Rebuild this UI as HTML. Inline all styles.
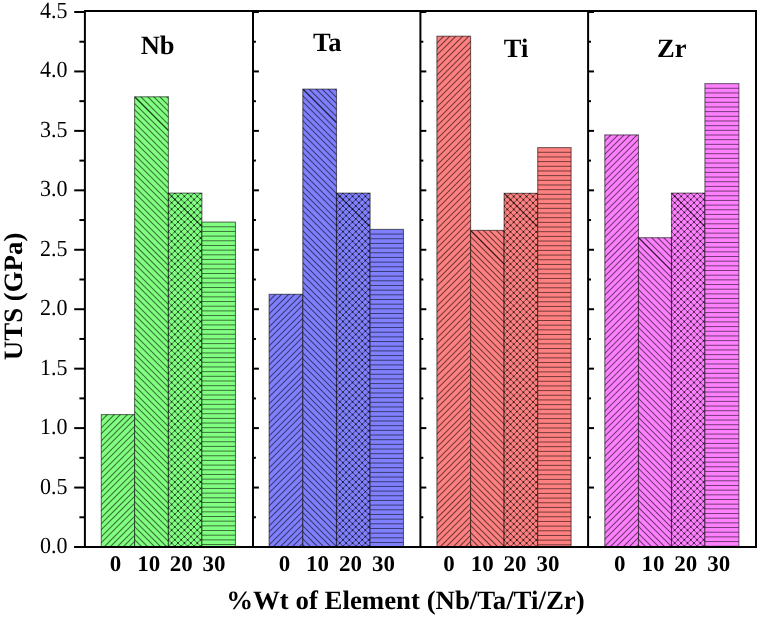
<!DOCTYPE html>
<html><head><meta charset="utf-8"><style>
html,body{margin:0;padding:0;background:#fff;}
svg{display:block;}
text{text-rendering:geometricPrecision;}
svg{will-change:transform;}
.yt{font-family:"Liberation Serif",serif;font-size:22px;}
.xt{font-family:"Liberation Serif",serif;font-size:23px;font-weight:bold;}
.pl{font-family:"Liberation Serif",serif;font-size:26.5px;font-weight:bold;}
.at{font-family:"Liberation Serif",serif;font-size:26.5px;font-weight:bold;}
</style></head><body>
<svg width="757" height="618" viewBox="0 0 757 618">
<rect width="757" height="618" fill="#fff"/>
<defs><clipPath id="c1"><rect x="101.30" y="414.60" width="33.30" height="132.40"/></clipPath><clipPath id="c2"><rect x="134.60" y="96.80" width="33.80" height="450.20"/></clipPath><clipPath id="c3"><rect x="168.40" y="193.10" width="33.50" height="353.90"/></clipPath><clipPath id="c4"><rect x="201.90" y="222.10" width="33.60" height="324.90"/></clipPath><clipPath id="c5"><rect x="269.10" y="294.30" width="33.70" height="252.70"/></clipPath><clipPath id="c6"><rect x="302.80" y="89.10" width="33.70" height="457.90"/></clipPath><clipPath id="c7"><rect x="336.50" y="193.10" width="33.60" height="353.90"/></clipPath><clipPath id="c8"><rect x="370.10" y="229.40" width="33.40" height="317.60"/></clipPath><clipPath id="c9"><rect x="436.90" y="36.20" width="33.70" height="510.80"/></clipPath><clipPath id="c10"><rect x="470.60" y="230.40" width="33.50" height="316.60"/></clipPath><clipPath id="c11"><rect x="504.10" y="193.30" width="33.60" height="353.70"/></clipPath><clipPath id="c12"><rect x="537.70" y="147.60" width="33.40" height="399.40"/></clipPath><clipPath id="c13"><rect x="604.80" y="134.90" width="33.70" height="412.10"/></clipPath><clipPath id="c14"><rect x="638.50" y="237.70" width="33.00" height="309.30"/></clipPath><clipPath id="c15"><rect x="671.50" y="193.10" width="33.40" height="353.90"/></clipPath><clipPath id="c16"><rect x="704.90" y="83.60" width="34.00" height="463.40"/></clipPath></defs>
<rect x="101.30" y="414.60" width="33.30" height="132.40" fill="#80ff80"/><path clip-path="url(#c1)" d="M99.40 409.60L-43.00 552.00M106.40 409.60L-36.00 552.00M112.40 409.60L-30.00 552.00M119.40 409.60L-23.00 552.00M125.40 409.60L-17.00 552.00M132.40 409.60L-10.00 552.00M138.40 409.60L-4.00 552.00M144.40 409.60L2.00 552.00M151.40 409.60L9.00 552.00M157.40 409.60L15.00 552.00M164.40 409.60L22.00 552.00M170.40 409.60L28.00 552.00M177.40 409.60L35.00 552.00M183.40 409.60L41.00 552.00M189.40 409.60L47.00 552.00M196.40 409.60L54.00 552.00M202.40 409.60L60.00 552.00M209.40 409.60L67.00 552.00M215.40 409.60L73.00 552.00M221.40 409.60L79.00 552.00M228.40 409.60L86.00 552.00M234.40 409.60L92.00 552.00M241.40 409.60L99.00 552.00M247.40 409.60L105.00 552.00M254.40 409.60L112.00 552.00M260.40 409.60L118.00 552.00M266.40 409.60L124.00 552.00" stroke="#000" stroke-width="1.15" stroke-opacity="0.55" fill="none"/><rect x="101.30" y="414.60" width="33.30" height="132.40" fill="none" stroke="#000" stroke-width="1.1" stroke-opacity="0.55"/><rect x="134.60" y="96.80" width="33.80" height="450.20" fill="#80ff80"/><path clip-path="url(#c2)" d="M-332.20 91.80L128.00 552.00M-326.20 91.80L134.00 552.00M-320.20 91.80L140.00 552.00M-313.20 91.80L147.00 552.00M-307.20 91.80L153.00 552.00M-300.20 91.80L160.00 552.00M-294.20 91.80L166.00 552.00M-288.20 91.80L172.00 552.00M-281.20 91.80L179.00 552.00M-275.20 91.80L185.00 552.00M-268.20 91.80L192.00 552.00M-262.20 91.80L198.00 552.00M-255.20 91.80L205.00 552.00M-249.20 91.80L211.00 552.00M-243.20 91.80L217.00 552.00M-236.20 91.80L224.00 552.00M-230.20 91.80L230.00 552.00M-223.20 91.80L237.00 552.00M-217.20 91.80L243.00 552.00M-210.20 91.80L250.00 552.00M-204.20 91.80L256.00 552.00M-198.20 91.80L262.00 552.00M-191.20 91.80L269.00 552.00M-185.20 91.80L275.00 552.00M-178.20 91.80L282.00 552.00M-172.20 91.80L288.00 552.00M-166.20 91.80L294.00 552.00M-159.20 91.80L301.00 552.00M-153.20 91.80L307.00 552.00M-146.20 91.80L314.00 552.00M-140.20 91.80L320.00 552.00M-133.20 91.80L327.00 552.00M-127.20 91.80L333.00 552.00M-121.20 91.80L339.00 552.00M-114.20 91.80L346.00 552.00M-108.20 91.80L352.00 552.00M-101.20 91.80L359.00 552.00M-95.20 91.80L365.00 552.00M-88.20 91.80L372.00 552.00M-82.20 91.80L378.00 552.00M-76.20 91.80L384.00 552.00M-69.20 91.80L391.00 552.00M-63.20 91.80L397.00 552.00M-56.20 91.80L404.00 552.00M-50.20 91.80L410.00 552.00M-44.20 91.80L416.00 552.00M-37.20 91.80L423.00 552.00M-31.20 91.80L429.00 552.00M-24.20 91.80L436.00 552.00M-18.20 91.80L442.00 552.00M-11.20 91.80L449.00 552.00M-5.20 91.80L455.00 552.00M0.80 91.80L461.00 552.00M7.80 91.80L468.00 552.00M13.80 91.80L474.00 552.00M20.80 91.80L481.00 552.00M26.80 91.80L487.00 552.00M33.80 91.80L494.00 552.00M39.80 91.80L500.00 552.00M45.80 91.80L506.00 552.00M52.80 91.80L513.00 552.00M58.80 91.80L519.00 552.00M65.80 91.80L526.00 552.00M71.80 91.80L532.00 552.00M77.80 91.80L538.00 552.00M84.80 91.80L545.00 552.00M90.80 91.80L551.00 552.00M97.80 91.80L558.00 552.00M103.80 91.80L564.00 552.00M110.80 91.80L571.00 552.00M116.80 91.80L577.00 552.00M122.80 91.80L583.00 552.00M129.80 91.80L590.00 552.00M135.80 91.80L596.00 552.00M142.80 91.80L603.00 552.00M148.80 91.80L609.00 552.00M154.80 91.80L615.00 552.00M161.80 91.80L622.00 552.00" stroke="#000" stroke-width="1.15" stroke-opacity="0.55" fill="none"/><path clip-path="url(#c2)" d="M134.60 96.80L168.40 130.60" stroke="#000" stroke-width="1.3" stroke-opacity="0.5" fill="none"/><rect x="134.60" y="96.80" width="33.80" height="450.20" fill="none" stroke="#000" stroke-width="1.1" stroke-opacity="0.55"/><rect x="168.40" y="193.10" width="33.50" height="353.90" fill="#80ff80"/><path clip-path="url(#c3)" d="M-202.54 188.10L161.36 552.00M-196.12 188.10L167.78 552.00M-189.70 188.10L174.20 552.00M-183.28 188.10L180.62 552.00M-176.86 188.10L187.04 552.00M-170.44 188.10L193.46 552.00M-164.02 188.10L199.88 552.00M-157.60 188.10L206.30 552.00M-151.18 188.10L212.72 552.00M-144.76 188.10L219.14 552.00M-138.34 188.10L225.56 552.00M-131.92 188.10L231.98 552.00M-125.50 188.10L238.40 552.00M-119.08 188.10L244.82 552.00M-112.66 188.10L251.24 552.00M-106.24 188.10L257.66 552.00M-99.82 188.10L264.08 552.00M-93.40 188.10L270.50 552.00M-86.98 188.10L276.92 552.00M-80.56 188.10L283.34 552.00M-74.14 188.10L289.76 552.00M-67.72 188.10L296.18 552.00M-61.30 188.10L302.60 552.00M-54.88 188.10L309.02 552.00M-48.46 188.10L315.44 552.00M-42.04 188.10L321.86 552.00M-35.62 188.10L328.28 552.00M-29.20 188.10L334.70 552.00M-22.78 188.10L341.12 552.00M-16.36 188.10L347.54 552.00M-9.94 188.10L353.96 552.00M-3.52 188.10L360.38 552.00M2.90 188.10L366.80 552.00M9.32 188.10L373.22 552.00M15.74 188.10L379.64 552.00M22.16 188.10L386.06 552.00M28.58 188.10L392.48 552.00M35.00 188.10L398.90 552.00M41.42 188.10L405.32 552.00M47.84 188.10L411.74 552.00M54.26 188.10L418.16 552.00M60.68 188.10L424.58 552.00M67.10 188.10L431.00 552.00M73.52 188.10L437.42 552.00M79.94 188.10L443.84 552.00M86.36 188.10L450.26 552.00M92.78 188.10L456.68 552.00M99.20 188.10L463.10 552.00M105.62 188.10L469.52 552.00M112.04 188.10L475.94 552.00M118.46 188.10L482.36 552.00M124.88 188.10L488.78 552.00M131.30 188.10L495.20 552.00M137.72 188.10L501.62 552.00M144.14 188.10L508.04 552.00M150.56 188.10L514.46 552.00M156.98 188.10L520.88 552.00M163.40 188.10L527.30 552.00M169.82 188.10L533.72 552.00M176.24 188.10L540.14 552.00M182.66 188.10L546.56 552.00M189.08 188.10L552.98 552.00M195.50 188.10L559.40 552.00M166.98 188.10L-196.92 552.00M173.40 188.10L-190.50 552.00M179.82 188.10L-184.08 552.00M186.24 188.10L-177.66 552.00M192.66 188.10L-171.24 552.00M199.08 188.10L-164.82 552.00M205.50 188.10L-158.40 552.00M211.92 188.10L-151.98 552.00M218.34 188.10L-145.56 552.00M224.76 188.10L-139.14 552.00M231.18 188.10L-132.72 552.00M237.60 188.10L-126.30 552.00M244.02 188.10L-119.88 552.00M250.44 188.10L-113.46 552.00M256.86 188.10L-107.04 552.00M263.28 188.10L-100.62 552.00M269.70 188.10L-94.20 552.00M276.12 188.10L-87.78 552.00M282.54 188.10L-81.36 552.00M288.96 188.10L-74.94 552.00M295.38 188.10L-68.52 552.00M301.80 188.10L-62.10 552.00M308.22 188.10L-55.68 552.00M314.64 188.10L-49.26 552.00M321.06 188.10L-42.84 552.00M327.48 188.10L-36.42 552.00M333.90 188.10L-30.00 552.00M340.32 188.10L-23.58 552.00M346.74 188.10L-17.16 552.00M353.16 188.10L-10.74 552.00M359.58 188.10L-4.32 552.00M366.00 188.10L2.10 552.00M372.42 188.10L8.52 552.00M378.84 188.10L14.94 552.00M385.26 188.10L21.36 552.00M391.68 188.10L27.78 552.00M398.10 188.10L34.20 552.00M404.52 188.10L40.62 552.00M410.94 188.10L47.04 552.00M417.36 188.10L53.46 552.00M423.78 188.10L59.88 552.00M430.20 188.10L66.30 552.00M436.62 188.10L72.72 552.00M443.04 188.10L79.14 552.00M449.46 188.10L85.56 552.00M455.88 188.10L91.98 552.00M462.30 188.10L98.40 552.00M468.72 188.10L104.82 552.00M475.14 188.10L111.24 552.00M481.56 188.10L117.66 552.00M487.98 188.10L124.08 552.00M494.40 188.10L130.50 552.00M500.82 188.10L136.92 552.00M507.24 188.10L143.34 552.00M513.66 188.10L149.76 552.00M520.08 188.10L156.18 552.00M526.50 188.10L162.60 552.00M532.92 188.10L169.02 552.00M539.34 188.10L175.44 552.00M545.76 188.10L181.86 552.00M552.18 188.10L188.28 552.00M558.60 188.10L194.70 552.00" stroke="#000" stroke-width="1.0" stroke-opacity="0.5" fill="none"/><path clip-path="url(#c3)" d="M168.4 193.1h0M168.4 199.5h0M171.6 196.3h0M174.8 193.1h0M168.4 205.9h0M171.6 202.7h0M174.8 199.5h0M178.0 196.3h0M181.2 193.1h0M168.4 212.4h0M171.6 209.1h0M174.8 205.9h0M178.0 202.7h0M181.2 199.5h0M184.4 196.3h0M187.7 193.1h0M168.4 218.8h0M171.6 215.6h0M174.8 212.4h0M178.0 209.2h0M181.2 205.9h0M184.5 202.7h0M187.7 199.5h0M190.9 196.3h0M194.1 193.1h0M168.4 225.2h0M171.6 222.0h0M174.8 218.8h0M178.0 215.6h0M181.2 212.4h0M184.5 209.2h0M187.7 205.9h0M190.9 202.7h0M194.1 199.5h0M197.3 196.3h0M200.5 193.1h0M168.4 231.6h0M171.6 228.4h0M174.8 225.2h0M178.0 222.0h0M181.2 218.8h0M184.4 215.6h0M187.7 212.4h0M190.9 209.1h0M194.1 205.9h0M197.3 202.7h0M200.5 199.5h0M168.4 238.0h0M171.6 234.8h0M174.8 231.6h0M178.0 228.4h0M181.2 225.2h0M184.4 222.0h0M187.7 218.8h0M190.9 215.6h0M194.1 212.4h0M197.3 209.2h0M200.5 205.9h0M168.4 244.5h0M171.6 241.2h0M174.8 238.0h0M178.0 234.8h0M181.2 231.6h0M184.5 228.4h0M187.7 225.2h0M190.9 222.0h0M194.1 218.8h0M197.3 215.6h0M200.5 212.4h0M168.4 250.9h0M171.6 247.7h0M174.8 244.5h0M178.0 241.2h0M181.2 238.0h0M184.4 234.8h0M187.7 231.6h0M190.9 228.4h0M194.1 225.2h0M197.3 222.0h0M200.5 218.8h0M168.4 257.3h0M171.6 254.1h0M174.8 250.9h0M178.0 247.7h0M181.2 244.5h0M184.4 241.2h0M187.7 238.0h0M190.9 234.8h0M194.1 231.6h0M197.3 228.4h0M200.5 225.2h0M168.4 263.7h0M171.6 260.5h0M174.8 257.3h0M178.0 254.1h0M181.2 250.9h0M184.5 247.7h0M187.7 244.5h0M190.9 241.2h0M194.1 238.0h0M197.3 234.8h0M200.5 231.6h0M168.4 270.1h0M171.6 266.9h0M174.8 263.7h0M178.0 260.5h0M181.2 257.3h0M184.4 254.1h0M187.7 250.9h0M190.9 247.7h0M194.1 244.5h0M197.3 241.2h0M200.5 238.0h0M168.4 276.6h0M171.6 273.3h0M174.8 270.1h0M178.0 266.9h0M181.2 263.7h0M184.4 260.5h0M187.7 257.3h0M190.9 254.1h0M194.1 250.9h0M197.3 247.7h0M200.5 244.5h0M168.4 283.0h0M171.6 279.8h0M174.8 276.6h0M178.0 273.4h0M181.2 270.1h0M184.4 266.9h0M187.7 263.7h0M190.9 260.5h0M194.1 257.3h0M197.3 254.1h0M200.5 250.9h0M168.4 289.4h0M171.6 286.2h0M174.8 283.0h0M178.0 279.8h0M181.2 276.6h0M184.5 273.4h0M187.7 270.1h0M190.9 266.9h0M194.1 263.7h0M197.3 260.5h0M200.5 257.3h0M168.4 295.8h0M171.6 292.6h0M174.8 289.4h0M178.0 286.2h0M181.2 283.0h0M184.5 279.8h0M187.7 276.6h0M190.9 273.4h0M194.1 270.1h0M197.3 266.9h0M200.5 263.7h0M168.4 302.2h0M171.6 299.0h0M174.8 295.8h0M178.0 292.6h0M181.2 289.4h0M184.4 286.2h0M187.7 283.0h0M190.9 279.8h0M194.1 276.6h0M197.3 273.3h0M200.5 270.1h0M168.4 308.7h0M171.6 305.4h0M174.8 302.2h0M178.0 299.0h0M181.2 295.8h0M184.5 292.6h0M187.7 289.4h0M190.9 286.2h0M194.1 283.0h0M197.3 279.8h0M200.5 276.6h0M168.4 315.1h0M171.6 311.9h0M174.8 308.7h0M178.0 305.4h0M181.2 302.2h0M184.5 299.0h0M187.7 295.8h0M190.9 292.6h0M194.1 289.4h0M197.3 286.2h0M200.5 283.0h0M168.4 321.5h0M171.6 318.3h0M174.8 315.1h0M178.0 311.9h0M181.2 308.7h0M184.4 305.4h0M187.7 302.2h0M190.9 299.0h0M194.1 295.8h0M197.3 292.6h0M200.5 289.4h0M168.4 327.9h0M171.6 324.7h0M174.8 321.5h0M178.0 318.3h0M181.2 315.1h0M184.4 311.9h0M187.7 308.7h0M190.9 305.4h0M194.1 302.2h0M197.3 299.0h0M200.5 295.8h0M168.4 334.3h0M171.6 331.1h0M174.8 327.9h0M178.0 324.7h0M181.2 321.5h0M184.5 318.3h0M187.7 315.1h0M190.9 311.9h0M194.1 308.7h0M197.3 305.4h0M200.5 302.2h0M168.4 340.8h0M171.6 337.5h0M174.8 334.3h0M178.0 331.1h0M181.2 327.9h0M184.4 324.7h0M187.7 321.5h0M190.9 318.3h0M194.1 315.1h0M197.3 311.9h0M200.5 308.7h0M168.4 347.2h0M171.6 344.0h0M174.8 340.8h0M178.0 337.5h0M181.2 334.3h0M184.4 331.1h0M187.7 327.9h0M190.9 324.7h0M194.1 321.5h0M197.3 318.3h0M200.5 315.1h0M168.4 353.6h0M171.6 350.4h0M174.8 347.2h0M178.0 344.0h0M181.2 340.8h0M184.4 337.6h0M187.7 334.3h0M190.9 331.1h0M194.1 327.9h0M197.3 324.7h0M200.5 321.5h0M168.4 360.0h0M171.6 356.8h0M174.8 353.6h0M178.0 350.4h0M181.2 347.2h0M184.4 344.0h0M187.7 340.8h0M190.9 337.5h0M194.1 334.3h0M197.3 331.1h0M200.5 327.9h0M168.4 366.4h0M171.6 363.2h0M174.8 360.0h0M178.0 356.8h0M181.2 353.6h0M184.5 350.4h0M187.7 347.2h0M190.9 344.0h0M194.1 340.8h0M197.3 337.6h0M200.5 334.3h0M168.4 372.9h0M171.6 369.6h0M174.8 366.4h0M178.0 363.2h0M181.2 360.0h0M184.4 356.8h0M187.7 353.6h0M190.9 350.4h0M194.1 347.2h0M197.3 344.0h0M200.5 340.8h0M168.4 379.3h0M171.6 376.1h0M174.8 372.9h0M178.0 369.7h0M181.2 366.4h0M184.5 363.2h0M187.7 360.0h0M190.9 356.8h0M194.1 353.6h0M197.3 350.4h0M200.5 347.2h0M168.4 385.7h0M171.6 382.5h0M174.8 379.3h0M178.0 376.1h0M181.2 372.9h0M184.5 369.6h0M187.7 366.4h0M190.9 363.2h0M194.1 360.0h0M197.3 356.8h0M200.5 353.6h0M168.4 392.1h0M171.6 388.9h0M174.8 385.7h0M178.0 382.5h0M181.2 379.3h0M184.4 376.1h0M187.7 372.9h0M190.9 369.6h0M194.1 366.4h0M197.3 363.2h0M200.5 360.0h0M168.4 398.5h0M171.6 395.3h0M174.8 392.1h0M178.0 388.9h0M181.2 385.7h0M184.5 382.5h0M187.7 379.3h0M190.9 376.1h0M194.1 372.9h0M197.3 369.7h0M200.5 366.4h0M168.4 405.0h0M171.6 401.8h0M174.8 398.5h0M178.0 395.3h0M181.2 392.1h0M184.5 388.9h0M187.7 385.7h0M190.9 382.5h0M194.1 379.3h0M197.3 376.1h0M200.5 372.9h0M168.4 411.4h0M171.6 408.2h0M174.8 405.0h0M178.0 401.8h0M181.2 398.5h0M184.4 395.3h0M187.7 392.1h0M190.9 388.9h0M194.1 385.7h0M197.3 382.5h0M200.5 379.3h0M168.4 417.8h0M171.6 414.6h0M174.8 411.4h0M178.0 408.2h0M181.2 405.0h0M184.5 401.8h0M187.7 398.5h0M190.9 395.3h0M194.1 392.1h0M197.3 388.9h0M200.5 385.7h0M168.4 424.2h0M171.6 421.0h0M174.8 417.8h0M178.0 414.6h0M181.2 411.4h0M184.4 408.2h0M187.7 405.0h0M190.9 401.8h0M194.1 398.5h0M197.3 395.3h0M200.5 392.1h0M168.4 430.6h0M171.6 427.4h0M174.8 424.2h0M178.0 421.0h0M181.2 417.8h0M184.4 414.6h0M187.7 411.4h0M190.9 408.2h0M194.1 405.0h0M197.3 401.8h0M200.5 398.5h0M168.4 437.1h0M171.6 433.9h0M174.8 430.6h0M178.0 427.4h0M181.2 424.2h0M184.5 421.0h0M187.7 417.8h0M190.9 414.6h0M194.1 411.4h0M197.3 408.2h0M200.5 405.0h0M168.4 443.5h0M171.6 440.3h0M174.8 437.1h0M178.0 433.9h0M181.2 430.6h0M184.4 427.4h0M187.7 424.2h0M190.9 421.0h0M194.1 417.8h0M197.3 414.6h0M200.5 411.4h0M168.4 449.9h0M171.6 446.7h0M174.8 443.5h0M178.0 440.3h0M181.2 437.1h0M184.4 433.8h0M187.7 430.6h0M190.9 427.4h0M194.1 424.2h0M197.3 421.0h0M200.5 417.8h0M168.4 456.3h0M171.6 453.1h0M174.8 449.9h0M178.0 446.7h0M181.2 443.5h0M184.5 440.3h0M187.7 437.1h0M190.9 433.9h0M194.1 430.6h0M197.3 427.4h0M200.5 424.2h0M168.4 462.7h0M171.6 459.5h0M174.8 456.3h0M178.0 453.1h0M181.2 449.9h0M184.4 446.7h0M187.7 443.5h0M190.9 440.3h0M194.1 437.1h0M197.3 433.8h0M200.5 430.6h0M168.4 469.2h0M171.6 465.9h0M174.8 462.7h0M178.0 459.5h0M181.2 456.3h0M184.4 453.1h0M187.7 449.9h0M190.9 446.7h0M194.1 443.5h0M197.3 440.3h0M200.5 437.1h0M168.4 475.6h0M171.6 472.4h0M174.8 469.2h0M178.0 465.9h0M181.2 462.7h0M184.5 459.5h0M187.7 456.3h0M190.9 453.1h0M194.1 449.9h0M197.3 446.7h0M200.5 443.5h0M168.4 482.0h0M171.6 478.8h0M174.8 475.6h0M178.0 472.4h0M181.2 469.2h0M184.4 465.9h0M187.7 462.7h0M190.9 459.5h0M194.1 456.3h0M197.3 453.1h0M200.5 449.9h0M168.4 488.4h0M171.6 485.2h0M174.8 482.0h0M178.0 478.8h0M181.2 475.6h0M184.4 472.4h0M187.7 469.2h0M190.9 465.9h0M194.1 462.7h0M197.3 459.5h0M200.5 456.3h0M168.4 494.8h0M171.6 491.6h0M174.8 488.4h0M178.0 485.2h0M181.2 482.0h0M184.5 478.8h0M187.7 475.6h0M190.9 472.4h0M194.1 469.2h0M197.3 465.9h0M200.5 462.7h0M168.4 501.3h0M171.6 498.0h0M174.8 494.8h0M178.0 491.6h0M181.2 488.4h0M184.4 485.2h0M187.7 482.0h0M190.9 478.8h0M194.1 475.6h0M197.3 472.4h0M200.5 469.2h0M168.4 507.7h0M171.6 504.5h0M174.8 501.3h0M178.0 498.0h0M181.2 494.8h0M184.4 491.6h0M187.7 488.4h0M190.9 485.2h0M194.1 482.0h0M197.3 478.8h0M200.5 475.6h0M168.4 514.1h0M171.6 510.9h0M174.8 507.7h0M178.0 504.5h0M181.2 501.3h0M184.5 498.0h0M187.7 494.8h0M190.9 491.6h0M194.1 488.4h0M197.3 485.2h0M200.5 482.0h0M168.4 520.5h0M171.6 517.3h0M174.8 514.1h0M178.0 510.9h0M181.2 507.7h0M184.5 504.5h0M187.7 501.3h0M190.9 498.1h0M194.1 494.8h0M197.3 491.6h0M200.5 488.4h0M168.4 526.9h0M171.6 523.7h0M174.8 520.5h0M178.0 517.3h0M181.2 514.1h0M184.4 510.9h0M187.7 507.7h0M190.9 504.5h0M194.1 501.3h0M197.3 498.0h0M200.5 494.8h0M168.4 533.4h0M171.6 530.1h0M174.8 526.9h0M178.0 523.7h0M181.2 520.5h0M184.5 517.3h0M187.7 514.1h0M190.9 510.9h0M194.1 507.7h0M197.3 504.5h0M200.5 501.3h0M168.4 539.8h0M171.6 536.6h0M174.8 533.4h0M178.0 530.2h0M181.2 526.9h0M184.5 523.7h0M187.7 520.5h0M190.9 517.3h0M194.1 514.1h0M197.3 510.9h0M200.5 507.7h0M168.4 546.2h0M171.6 543.0h0M174.8 539.8h0M178.0 536.6h0M181.2 533.4h0M184.5 530.1h0M187.7 526.9h0M190.9 523.7h0M194.1 520.5h0M197.3 517.3h0M200.5 514.1h0M174.8 546.2h0M178.0 543.0h0M181.2 539.8h0M184.4 536.6h0M187.7 533.4h0M190.9 530.1h0M194.1 526.9h0M197.3 523.7h0M200.5 520.5h0M181.2 546.2h0M184.5 543.0h0M187.7 539.8h0M190.9 536.6h0M194.1 533.4h0M197.3 530.1h0M200.5 526.9h0M187.7 546.2h0M190.9 543.0h0M194.1 539.8h0M197.3 536.6h0M200.5 533.4h0M194.1 546.2h0M197.3 543.0h0M200.5 539.8h0M200.5 546.2h0" stroke="#000" stroke-linecap="round" stroke-width="1.8" stroke-opacity="0.6"/><path clip-path="url(#c3)" d="M168.40 193.10L201.90 226.60" stroke="#000" stroke-width="1.3" stroke-opacity="0.5" fill="none"/><rect x="168.40" y="193.10" width="33.50" height="353.90" fill="none" stroke="#000" stroke-width="1.1" stroke-opacity="0.55"/><rect x="201.90" y="222.10" width="33.60" height="324.90" fill="#80ff80"/><path clip-path="url(#c4)" d="M201.90 226.77H235.50M201.90 231.45H235.50M201.90 236.12H235.50M201.90 240.79H235.50M201.90 245.47H235.50M201.90 250.14H235.50M201.90 254.81H235.50M201.90 259.48H235.50M201.90 264.16H235.50M201.90 268.83H235.50M201.90 273.50H235.50M201.90 278.18H235.50M201.90 282.85H235.50M201.90 287.52H235.50M201.90 292.19H235.50M201.90 296.87H235.50M201.90 301.54H235.50M201.90 306.21H235.50M201.90 310.89H235.50M201.90 315.56H235.50M201.90 320.23H235.50M201.90 324.91H235.50M201.90 329.58H235.50M201.90 334.25H235.50M201.90 338.93H235.50M201.90 343.60H235.50M201.90 348.27H235.50M201.90 352.94H235.50M201.90 357.62H235.50M201.90 362.29H235.50M201.90 366.96H235.50M201.90 371.64H235.50M201.90 376.31H235.50M201.90 380.98H235.50M201.90 385.66H235.50M201.90 390.33H235.50M201.90 395.00H235.50M201.90 399.67H235.50M201.90 404.35H235.50M201.90 409.02H235.50M201.90 413.69H235.50M201.90 418.37H235.50M201.90 423.04H235.50M201.90 427.71H235.50M201.90 432.39H235.50M201.90 437.06H235.50M201.90 441.73H235.50M201.90 446.40H235.50M201.90 451.08H235.50M201.90 455.75H235.50M201.90 460.42H235.50M201.90 465.10H235.50M201.90 469.77H235.50M201.90 474.44H235.50M201.90 479.12H235.50M201.90 483.79H235.50M201.90 488.46H235.50M201.90 493.13H235.50M201.90 497.81H235.50M201.90 502.48H235.50M201.90 507.15H235.50M201.90 511.83H235.50M201.90 516.50H235.50M201.90 521.17H235.50M201.90 525.85H235.50M201.90 530.52H235.50M201.90 535.19H235.50M201.90 539.86H235.50M201.90 544.54H235.50" stroke="#000" stroke-width="1.0" stroke-opacity="0.55" fill="none"/><rect x="201.90" y="222.10" width="33.60" height="324.90" fill="none" stroke="#000" stroke-width="1.1" stroke-opacity="0.55"/><rect x="269.10" y="294.30" width="33.70" height="252.70" fill="#8080ff"/><path clip-path="url(#c5)" d="M267.70 289.30L5.00 552.00M273.70 289.30L11.00 552.00M280.70 289.30L18.00 552.00M286.70 289.30L24.00 552.00M293.70 289.30L31.00 552.00M299.70 289.30L37.00 552.00M306.70 289.30L44.00 552.00M312.70 289.30L50.00 552.00M318.70 289.30L56.00 552.00M325.70 289.30L63.00 552.00M331.70 289.30L69.00 552.00M338.70 289.30L76.00 552.00M344.70 289.30L82.00 552.00M350.70 289.30L88.00 552.00M357.70 289.30L95.00 552.00M363.70 289.30L101.00 552.00M370.70 289.30L108.00 552.00M376.70 289.30L114.00 552.00M383.70 289.30L121.00 552.00M389.70 289.30L127.00 552.00M395.70 289.30L133.00 552.00M402.70 289.30L140.00 552.00M408.70 289.30L146.00 552.00M415.70 289.30L153.00 552.00M421.70 289.30L159.00 552.00M427.70 289.30L165.00 552.00M434.70 289.30L172.00 552.00M440.70 289.30L178.00 552.00M447.70 289.30L185.00 552.00M453.70 289.30L191.00 552.00M460.70 289.30L198.00 552.00M466.70 289.30L204.00 552.00M472.70 289.30L210.00 552.00M479.70 289.30L217.00 552.00M485.70 289.30L223.00 552.00M492.70 289.30L230.00 552.00M498.70 289.30L236.00 552.00M505.70 289.30L243.00 552.00M511.70 289.30L249.00 552.00M517.70 289.30L255.00 552.00M524.70 289.30L262.00 552.00M530.70 289.30L268.00 552.00M537.70 289.30L275.00 552.00M543.70 289.30L281.00 552.00M549.70 289.30L287.00 552.00M556.70 289.30L294.00 552.00" stroke="#000" stroke-width="1.15" stroke-opacity="0.55" fill="none"/><rect x="269.10" y="294.30" width="33.70" height="252.70" fill="none" stroke="#000" stroke-width="1.1" stroke-opacity="0.55"/><rect x="302.80" y="89.10" width="33.70" height="457.90" fill="#8080ff"/><path clip-path="url(#c6)" d="M-170.90 84.10L297.00 552.00M-164.90 84.10L303.00 552.00M-157.90 84.10L310.00 552.00M-151.90 84.10L316.00 552.00M-144.90 84.10L323.00 552.00M-138.90 84.10L329.00 552.00M-131.90 84.10L336.00 552.00M-125.90 84.10L342.00 552.00M-119.90 84.10L348.00 552.00M-112.90 84.10L355.00 552.00M-106.90 84.10L361.00 552.00M-99.90 84.10L368.00 552.00M-93.90 84.10L374.00 552.00M-86.90 84.10L381.00 552.00M-80.90 84.10L387.00 552.00M-74.90 84.10L393.00 552.00M-67.90 84.10L400.00 552.00M-61.90 84.10L406.00 552.00M-54.90 84.10L413.00 552.00M-48.90 84.10L419.00 552.00M-42.90 84.10L425.00 552.00M-35.90 84.10L432.00 552.00M-29.90 84.10L438.00 552.00M-22.90 84.10L445.00 552.00M-16.90 84.10L451.00 552.00M-9.90 84.10L458.00 552.00M-3.90 84.10L464.00 552.00M2.10 84.10L470.00 552.00M9.10 84.10L477.00 552.00M15.10 84.10L483.00 552.00M22.10 84.10L490.00 552.00M28.10 84.10L496.00 552.00M34.10 84.10L502.00 552.00M41.10 84.10L509.00 552.00M47.10 84.10L515.00 552.00M54.10 84.10L522.00 552.00M60.10 84.10L528.00 552.00M67.10 84.10L535.00 552.00M73.10 84.10L541.00 552.00M79.10 84.10L547.00 552.00M86.10 84.10L554.00 552.00M92.10 84.10L560.00 552.00M99.10 84.10L567.00 552.00M105.10 84.10L573.00 552.00M112.10 84.10L580.00 552.00M118.10 84.10L586.00 552.00M124.10 84.10L592.00 552.00M131.10 84.10L599.00 552.00M137.10 84.10L605.00 552.00M144.10 84.10L612.00 552.00M150.10 84.10L618.00 552.00M156.10 84.10L624.00 552.00M163.10 84.10L631.00 552.00M169.10 84.10L637.00 552.00M176.10 84.10L644.00 552.00M182.10 84.10L650.00 552.00M189.10 84.10L657.00 552.00M195.10 84.10L663.00 552.00M201.10 84.10L669.00 552.00M208.10 84.10L676.00 552.00M214.10 84.10L682.00 552.00M221.10 84.10L689.00 552.00M227.10 84.10L695.00 552.00M234.10 84.10L702.00 552.00M240.10 84.10L708.00 552.00M246.10 84.10L714.00 552.00M253.10 84.10L721.00 552.00M259.10 84.10L727.00 552.00M266.10 84.10L734.00 552.00M272.10 84.10L740.00 552.00M278.10 84.10L746.00 552.00M285.10 84.10L753.00 552.00M291.10 84.10L759.00 552.00M298.10 84.10L766.00 552.00M304.10 84.10L772.00 552.00M311.10 84.10L779.00 552.00M317.10 84.10L785.00 552.00M323.10 84.10L791.00 552.00M330.10 84.10L798.00 552.00" stroke="#000" stroke-width="1.15" stroke-opacity="0.55" fill="none"/><path clip-path="url(#c6)" d="M302.80 89.10L336.50 122.80" stroke="#000" stroke-width="1.3" stroke-opacity="0.5" fill="none"/><rect x="302.80" y="89.10" width="33.70" height="457.90" fill="none" stroke="#000" stroke-width="1.1" stroke-opacity="0.55"/><rect x="336.50" y="193.10" width="33.60" height="353.90" fill="#8080ff"/><path clip-path="url(#c7)" d="M-34.44 188.10L329.46 552.00M-28.02 188.10L335.88 552.00M-21.60 188.10L342.30 552.00M-15.18 188.10L348.72 552.00M-8.76 188.10L355.14 552.00M-2.34 188.10L361.56 552.00M4.08 188.10L367.98 552.00M10.50 188.10L374.40 552.00M16.92 188.10L380.82 552.00M23.34 188.10L387.24 552.00M29.76 188.10L393.66 552.00M36.18 188.10L400.08 552.00M42.60 188.10L406.50 552.00M49.02 188.10L412.92 552.00M55.44 188.10L419.34 552.00M61.86 188.10L425.76 552.00M68.28 188.10L432.18 552.00M74.70 188.10L438.60 552.00M81.12 188.10L445.02 552.00M87.54 188.10L451.44 552.00M93.96 188.10L457.86 552.00M100.38 188.10L464.28 552.00M106.80 188.10L470.70 552.00M113.22 188.10L477.12 552.00M119.64 188.10L483.54 552.00M126.06 188.10L489.96 552.00M132.48 188.10L496.38 552.00M138.90 188.10L502.80 552.00M145.32 188.10L509.22 552.00M151.74 188.10L515.64 552.00M158.16 188.10L522.06 552.00M164.58 188.10L528.48 552.00M171.00 188.10L534.90 552.00M177.42 188.10L541.32 552.00M183.84 188.10L547.74 552.00M190.26 188.10L554.16 552.00M196.68 188.10L560.58 552.00M203.10 188.10L567.00 552.00M209.52 188.10L573.42 552.00M215.94 188.10L579.84 552.00M222.36 188.10L586.26 552.00M228.78 188.10L592.68 552.00M235.20 188.10L599.10 552.00M241.62 188.10L605.52 552.00M248.04 188.10L611.94 552.00M254.46 188.10L618.36 552.00M260.88 188.10L624.78 552.00M267.30 188.10L631.20 552.00M273.72 188.10L637.62 552.00M280.14 188.10L644.04 552.00M286.56 188.10L650.46 552.00M292.98 188.10L656.88 552.00M299.40 188.10L663.30 552.00M305.82 188.10L669.72 552.00M312.24 188.10L676.14 552.00M318.66 188.10L682.56 552.00M325.08 188.10L688.98 552.00M331.50 188.10L695.40 552.00M337.92 188.10L701.82 552.00M344.34 188.10L708.24 552.00M350.76 188.10L714.66 552.00M357.18 188.10L721.08 552.00M363.60 188.10L727.50 552.00M335.08 188.10L-28.82 552.00M341.50 188.10L-22.40 552.00M347.92 188.10L-15.98 552.00M354.34 188.10L-9.56 552.00M360.76 188.10L-3.14 552.00M367.18 188.10L3.28 552.00M373.60 188.10L9.70 552.00M380.02 188.10L16.12 552.00M386.44 188.10L22.54 552.00M392.86 188.10L28.96 552.00M399.28 188.10L35.38 552.00M405.70 188.10L41.80 552.00M412.12 188.10L48.22 552.00M418.54 188.10L54.64 552.00M424.96 188.10L61.06 552.00M431.38 188.10L67.48 552.00M437.80 188.10L73.90 552.00M444.22 188.10L80.32 552.00M450.64 188.10L86.74 552.00M457.06 188.10L93.16 552.00M463.48 188.10L99.58 552.00M469.90 188.10L106.00 552.00M476.32 188.10L112.42 552.00M482.74 188.10L118.84 552.00M489.16 188.10L125.26 552.00M495.58 188.10L131.68 552.00M502.00 188.10L138.10 552.00M508.42 188.10L144.52 552.00M514.84 188.10L150.94 552.00M521.26 188.10L157.36 552.00M527.68 188.10L163.78 552.00M534.10 188.10L170.20 552.00M540.52 188.10L176.62 552.00M546.94 188.10L183.04 552.00M553.36 188.10L189.46 552.00M559.78 188.10L195.88 552.00M566.20 188.10L202.30 552.00M572.62 188.10L208.72 552.00M579.04 188.10L215.14 552.00M585.46 188.10L221.56 552.00M591.88 188.10L227.98 552.00M598.30 188.10L234.40 552.00M604.72 188.10L240.82 552.00M611.14 188.10L247.24 552.00M617.56 188.10L253.66 552.00M623.98 188.10L260.08 552.00M630.40 188.10L266.50 552.00M636.82 188.10L272.92 552.00M643.24 188.10L279.34 552.00M649.66 188.10L285.76 552.00M656.08 188.10L292.18 552.00M662.50 188.10L298.60 552.00M668.92 188.10L305.02 552.00M675.34 188.10L311.44 552.00M681.76 188.10L317.86 552.00M688.18 188.10L324.28 552.00M694.60 188.10L330.70 552.00M701.02 188.10L337.12 552.00M707.44 188.10L343.54 552.00M713.86 188.10L349.96 552.00M720.28 188.10L356.38 552.00M726.70 188.10L362.80 552.00" stroke="#000" stroke-width="1.0" stroke-opacity="0.5" fill="none"/><path clip-path="url(#c7)" d="M336.5 193.1h0M336.5 199.5h0M339.7 196.3h0M342.9 193.1h0M336.5 205.9h0M339.7 202.7h0M342.9 199.5h0M346.1 196.3h0M349.3 193.1h0M336.5 212.4h0M339.7 209.2h0M342.9 205.9h0M346.1 202.7h0M349.3 199.5h0M352.6 196.3h0M355.8 193.1h0M336.5 218.8h0M339.7 215.6h0M342.9 212.4h0M346.1 209.1h0M349.3 205.9h0M352.5 202.7h0M355.8 199.5h0M359.0 196.3h0M362.2 193.1h0M336.5 225.2h0M339.7 222.0h0M342.9 218.8h0M346.1 215.6h0M349.3 212.4h0M352.6 209.2h0M355.8 205.9h0M359.0 202.7h0M362.2 199.5h0M365.4 196.3h0M368.6 193.1h0M336.5 231.6h0M339.7 228.4h0M342.9 225.2h0M346.1 222.0h0M349.3 218.8h0M352.6 215.6h0M355.8 212.4h0M359.0 209.2h0M362.2 205.9h0M365.4 202.7h0M368.6 199.5h0M336.5 238.0h0M339.7 234.8h0M342.9 231.6h0M346.1 228.4h0M349.3 225.2h0M352.5 222.0h0M355.8 218.8h0M359.0 215.6h0M362.2 212.4h0M365.4 209.1h0M368.6 205.9h0M336.5 244.5h0M339.7 241.2h0M342.9 238.0h0M346.1 234.8h0M349.3 231.6h0M352.6 228.4h0M355.8 225.2h0M359.0 222.0h0M362.2 218.8h0M365.4 215.6h0M368.6 212.4h0M336.5 250.9h0M339.7 247.7h0M342.9 244.5h0M346.1 241.2h0M349.3 238.0h0M352.6 234.8h0M355.8 231.6h0M359.0 228.4h0M362.2 225.2h0M365.4 222.0h0M368.6 218.8h0M336.5 257.3h0M339.7 254.1h0M342.9 250.9h0M346.1 247.7h0M349.3 244.5h0M352.6 241.3h0M355.8 238.0h0M359.0 234.8h0M362.2 231.6h0M365.4 228.4h0M368.6 225.2h0M336.5 263.7h0M339.7 260.5h0M342.9 257.3h0M346.1 254.1h0M349.3 250.9h0M352.6 247.7h0M355.8 244.5h0M359.0 241.2h0M362.2 238.0h0M365.4 234.8h0M368.6 231.6h0M336.5 270.1h0M339.7 266.9h0M342.9 263.7h0M346.1 260.5h0M349.3 257.3h0M352.6 254.1h0M355.8 250.9h0M359.0 247.7h0M362.2 244.5h0M365.4 241.2h0M368.6 238.0h0M336.5 276.6h0M339.7 273.4h0M342.9 270.1h0M346.1 266.9h0M349.3 263.7h0M352.6 260.5h0M355.8 257.3h0M359.0 254.1h0M362.2 250.9h0M365.4 247.7h0M368.6 244.5h0M336.5 283.0h0M339.7 279.8h0M342.9 276.6h0M346.1 273.4h0M349.3 270.1h0M352.6 266.9h0M355.8 263.7h0M359.0 260.5h0M362.2 257.3h0M365.4 254.1h0M368.6 250.9h0M336.5 289.4h0M339.7 286.2h0M342.9 283.0h0M346.1 279.8h0M349.3 276.6h0M352.6 273.3h0M355.8 270.1h0M359.0 266.9h0M362.2 263.7h0M365.4 260.5h0M368.6 257.3h0M336.5 295.8h0M339.7 292.6h0M342.9 289.4h0M346.1 286.2h0M349.3 283.0h0M352.6 279.8h0M355.8 276.6h0M359.0 273.4h0M362.2 270.1h0M365.4 266.9h0M368.6 263.7h0M336.5 302.2h0M339.7 299.0h0M342.9 295.8h0M346.1 292.6h0M349.3 289.4h0M352.6 286.2h0M355.8 283.0h0M359.0 279.8h0M362.2 276.6h0M365.4 273.4h0M368.6 270.1h0M336.5 308.7h0M339.7 305.5h0M342.9 302.2h0M346.1 299.0h0M349.3 295.8h0M352.6 292.6h0M355.8 289.4h0M359.0 286.2h0M362.2 283.0h0M365.4 279.8h0M368.6 276.6h0M336.5 315.1h0M339.7 311.9h0M342.9 308.7h0M346.1 305.5h0M349.3 302.2h0M352.6 299.0h0M355.8 295.8h0M359.0 292.6h0M362.2 289.4h0M365.4 286.2h0M368.6 283.0h0M336.5 321.5h0M339.7 318.3h0M342.9 315.1h0M346.1 311.9h0M349.3 308.7h0M352.6 305.4h0M355.8 302.2h0M359.0 299.0h0M362.2 295.8h0M365.4 292.6h0M368.6 289.4h0M336.5 327.9h0M339.7 324.7h0M342.9 321.5h0M346.1 318.3h0M349.3 315.1h0M352.6 311.9h0M355.8 308.7h0M359.0 305.5h0M362.2 302.2h0M365.4 299.0h0M368.6 295.8h0M336.5 334.3h0M339.7 331.1h0M342.9 327.9h0M346.1 324.7h0M349.3 321.5h0M352.6 318.3h0M355.8 315.1h0M359.0 311.9h0M362.2 308.7h0M365.4 305.4h0M368.6 302.2h0M336.5 340.8h0M339.7 337.6h0M342.9 334.3h0M346.1 331.1h0M349.3 327.9h0M352.6 324.7h0M355.8 321.5h0M359.0 318.3h0M362.2 315.1h0M365.4 311.9h0M368.6 308.7h0M336.5 347.2h0M339.7 344.0h0M342.9 340.8h0M346.1 337.6h0M349.3 334.3h0M352.6 331.1h0M355.8 327.9h0M359.0 324.7h0M362.2 321.5h0M365.4 318.3h0M368.6 315.1h0M336.5 353.6h0M339.7 350.4h0M342.9 347.2h0M346.1 344.0h0M349.3 340.8h0M352.6 337.6h0M355.8 334.3h0M359.0 331.1h0M362.2 327.9h0M365.4 324.7h0M368.6 321.5h0M336.5 360.0h0M339.7 356.8h0M342.9 353.6h0M346.1 350.4h0M349.3 347.2h0M352.6 344.0h0M355.8 340.8h0M359.0 337.6h0M362.2 334.3h0M365.4 331.1h0M368.6 327.9h0M336.5 366.4h0M339.7 363.2h0M342.9 360.0h0M346.1 356.8h0M349.3 353.6h0M352.6 350.4h0M355.8 347.2h0M359.0 344.0h0M362.2 340.8h0M365.4 337.6h0M368.6 334.3h0M336.5 372.9h0M339.7 369.6h0M342.9 366.4h0M346.1 363.2h0M349.3 360.0h0M352.6 356.8h0M355.8 353.6h0M359.0 350.4h0M362.2 347.2h0M365.4 344.0h0M368.6 340.8h0M336.5 379.3h0M339.7 376.1h0M342.9 372.9h0M346.1 369.6h0M349.3 366.4h0M352.6 363.2h0M355.8 360.0h0M359.0 356.8h0M362.2 353.6h0M365.4 350.4h0M368.6 347.2h0M336.5 385.7h0M339.7 382.5h0M342.9 379.3h0M346.1 376.1h0M349.3 372.9h0M352.6 369.7h0M355.8 366.4h0M359.0 363.2h0M362.2 360.0h0M365.4 356.8h0M368.6 353.6h0M336.5 392.1h0M339.7 388.9h0M342.9 385.7h0M346.1 382.5h0M349.3 379.3h0M352.6 376.1h0M355.8 372.9h0M359.0 369.6h0M362.2 366.4h0M365.4 363.2h0M368.6 360.0h0M336.5 398.5h0M339.7 395.3h0M342.9 392.1h0M346.1 388.9h0M349.3 385.7h0M352.5 382.5h0M355.8 379.3h0M359.0 376.1h0M362.2 372.9h0M365.4 369.6h0M368.6 366.4h0M336.5 405.0h0M339.7 401.8h0M342.9 398.5h0M346.1 395.3h0M349.3 392.1h0M352.6 388.9h0M355.8 385.7h0M359.0 382.5h0M362.2 379.3h0M365.4 376.1h0M368.6 372.9h0M336.5 411.4h0M339.7 408.2h0M342.9 405.0h0M346.1 401.8h0M349.3 398.5h0M352.6 395.3h0M355.8 392.1h0M359.0 388.9h0M362.2 385.7h0M365.4 382.5h0M368.6 379.3h0M336.5 417.8h0M339.7 414.6h0M342.9 411.4h0M346.1 408.2h0M349.3 405.0h0M352.5 401.8h0M355.8 398.5h0M359.0 395.3h0M362.2 392.1h0M365.4 388.9h0M368.6 385.7h0M336.5 424.2h0M339.7 421.0h0M342.9 417.8h0M346.1 414.6h0M349.3 411.4h0M352.6 408.2h0M355.8 405.0h0M359.0 401.8h0M362.2 398.5h0M365.4 395.3h0M368.6 392.1h0M336.5 430.6h0M339.7 427.4h0M342.9 424.2h0M346.1 421.0h0M349.3 417.8h0M352.6 414.6h0M355.8 411.4h0M359.0 408.2h0M362.2 405.0h0M365.4 401.8h0M368.6 398.5h0M336.5 437.1h0M339.7 433.9h0M342.9 430.6h0M346.1 427.4h0M349.3 424.2h0M352.6 421.0h0M355.8 417.8h0M359.0 414.6h0M362.2 411.4h0M365.4 408.2h0M368.6 405.0h0M336.5 443.5h0M339.7 440.3h0M342.9 437.1h0M346.1 433.9h0M349.3 430.6h0M352.6 427.4h0M355.8 424.2h0M359.0 421.0h0M362.2 417.8h0M365.4 414.6h0M368.6 411.4h0M336.5 449.9h0M339.7 446.7h0M342.9 443.5h0M346.1 440.3h0M349.3 437.1h0M352.6 433.9h0M355.8 430.6h0M359.0 427.4h0M362.2 424.2h0M365.4 421.0h0M368.6 417.8h0M336.5 456.3h0M339.7 453.1h0M342.9 449.9h0M346.1 446.7h0M349.3 443.5h0M352.5 440.3h0M355.8 437.1h0M359.0 433.8h0M362.2 430.6h0M365.4 427.4h0M368.6 424.2h0M336.5 462.7h0M339.7 459.5h0M342.9 456.3h0M346.1 453.1h0M349.3 449.9h0M352.6 446.7h0M355.8 443.5h0M359.0 440.3h0M362.2 437.1h0M365.4 433.9h0M368.6 430.6h0M336.5 469.2h0M339.7 466.0h0M342.9 462.7h0M346.1 459.5h0M349.3 456.3h0M352.6 453.1h0M355.8 449.9h0M359.0 446.7h0M362.2 443.5h0M365.4 440.3h0M368.6 437.1h0M336.5 475.6h0M339.7 472.4h0M342.9 469.2h0M346.1 465.9h0M349.3 462.7h0M352.6 459.5h0M355.8 456.3h0M359.0 453.1h0M362.2 449.9h0M365.4 446.7h0M368.6 443.5h0M336.5 482.0h0M339.7 478.8h0M342.9 475.6h0M346.1 472.4h0M349.3 469.2h0M352.6 465.9h0M355.8 462.7h0M359.0 459.5h0M362.2 456.3h0M365.4 453.1h0M368.6 449.9h0M336.5 488.4h0M339.7 485.2h0M342.9 482.0h0M346.1 478.8h0M349.3 475.6h0M352.6 472.4h0M355.8 469.2h0M359.0 466.0h0M362.2 462.7h0M365.4 459.5h0M368.6 456.3h0M336.5 494.8h0M339.7 491.6h0M342.9 488.4h0M346.1 485.2h0M349.3 482.0h0M352.6 478.8h0M355.8 475.6h0M359.0 472.4h0M362.2 469.2h0M365.4 466.0h0M368.6 462.7h0M336.5 501.3h0M339.7 498.1h0M342.9 494.8h0M346.1 491.6h0M349.3 488.4h0M352.6 485.2h0M355.8 482.0h0M359.0 478.8h0M362.2 475.6h0M365.4 472.4h0M368.6 469.2h0M336.5 507.7h0M339.7 504.5h0M342.9 501.3h0M346.1 498.1h0M349.3 494.8h0M352.6 491.6h0M355.8 488.4h0M359.0 485.2h0M362.2 482.0h0M365.4 478.8h0M368.6 475.6h0M336.5 514.1h0M339.7 510.9h0M342.9 507.7h0M346.1 504.5h0M349.3 501.3h0M352.6 498.1h0M355.8 494.8h0M359.0 491.6h0M362.2 488.4h0M365.4 485.2h0M368.6 482.0h0M336.5 520.5h0M339.7 517.3h0M342.9 514.1h0M346.1 510.9h0M349.3 507.7h0M352.6 504.5h0M355.8 501.3h0M359.0 498.1h0M362.2 494.8h0M365.4 491.6h0M368.6 488.4h0M336.5 526.9h0M339.7 523.7h0M342.9 520.5h0M346.1 517.3h0M349.3 514.1h0M352.6 510.9h0M355.8 507.7h0M359.0 504.5h0M362.2 501.3h0M365.4 498.1h0M368.6 494.8h0M336.5 533.4h0M339.7 530.1h0M342.9 526.9h0M346.1 523.7h0M349.3 520.5h0M352.6 517.3h0M355.8 514.1h0M359.0 510.9h0M362.2 507.7h0M365.4 504.5h0M368.6 501.3h0M336.5 539.8h0M339.7 536.6h0M342.9 533.4h0M346.1 530.1h0M349.3 526.9h0M352.6 523.7h0M355.8 520.5h0M359.0 517.3h0M362.2 514.1h0M365.4 510.9h0M368.6 507.7h0M336.5 546.2h0M339.7 543.0h0M342.9 539.8h0M346.1 536.6h0M349.3 533.4h0M352.6 530.1h0M355.8 526.9h0M359.0 523.7h0M362.2 520.5h0M365.4 517.3h0M368.6 514.1h0M342.9 546.2h0M346.1 543.0h0M349.3 539.8h0M352.6 536.6h0M355.8 533.4h0M359.0 530.1h0M362.2 526.9h0M365.4 523.7h0M368.6 520.5h0M349.3 546.2h0M352.6 543.0h0M355.8 539.8h0M359.0 536.6h0M362.2 533.4h0M365.4 530.1h0M368.6 526.9h0M355.8 546.2h0M359.0 543.0h0M362.2 539.8h0M365.4 536.6h0M368.6 533.4h0M362.2 546.2h0M365.4 543.0h0M368.6 539.8h0M368.6 546.2h0" stroke="#000" stroke-linecap="round" stroke-width="1.8" stroke-opacity="0.6"/><path clip-path="url(#c7)" d="M336.50 193.10L370.10 226.70" stroke="#000" stroke-width="1.3" stroke-opacity="0.5" fill="none"/><rect x="336.50" y="193.10" width="33.60" height="353.90" fill="none" stroke="#000" stroke-width="1.1" stroke-opacity="0.55"/><rect x="370.10" y="229.40" width="33.40" height="317.60" fill="#8080ff"/><path clip-path="url(#c8)" d="M370.10 234.07H403.50M370.10 238.75H403.50M370.10 243.42H403.50M370.10 248.09H403.50M370.10 252.77H403.50M370.10 257.44H403.50M370.10 262.11H403.50M370.10 266.78H403.50M370.10 271.46H403.50M370.10 276.13H403.50M370.10 280.80H403.50M370.10 285.48H403.50M370.10 290.15H403.50M370.10 294.82H403.50M370.10 299.50H403.50M370.10 304.17H403.50M370.10 308.84H403.50M370.10 313.51H403.50M370.10 318.19H403.50M370.10 322.86H403.50M370.10 327.53H403.50M370.10 332.21H403.50M370.10 336.88H403.50M370.10 341.55H403.50M370.10 346.23H403.50M370.10 350.90H403.50M370.10 355.57H403.50M370.10 360.24H403.50M370.10 364.92H403.50M370.10 369.59H403.50M370.10 374.26H403.50M370.10 378.94H403.50M370.10 383.61H403.50M370.10 388.28H403.50M370.10 392.96H403.50M370.10 397.63H403.50M370.10 402.30H403.50M370.10 406.97H403.50M370.10 411.65H403.50M370.10 416.32H403.50M370.10 420.99H403.50M370.10 425.67H403.50M370.10 430.34H403.50M370.10 435.01H403.50M370.10 439.69H403.50M370.10 444.36H403.50M370.10 449.03H403.50M370.10 453.70H403.50M370.10 458.38H403.50M370.10 463.05H403.50M370.10 467.72H403.50M370.10 472.40H403.50M370.10 477.07H403.50M370.10 481.74H403.50M370.10 486.42H403.50M370.10 491.09H403.50M370.10 495.76H403.50M370.10 500.43H403.50M370.10 505.11H403.50M370.10 509.78H403.50M370.10 514.45H403.50M370.10 519.13H403.50M370.10 523.80H403.50M370.10 528.47H403.50M370.10 533.15H403.50M370.10 537.82H403.50M370.10 542.49H403.50" stroke="#000" stroke-width="1.0" stroke-opacity="0.55" fill="none"/><rect x="370.10" y="229.40" width="33.40" height="317.60" fill="none" stroke="#000" stroke-width="1.1" stroke-opacity="0.55"/><rect x="436.90" y="36.20" width="33.70" height="510.80" fill="#ff8080"/><path clip-path="url(#c9)" d="M435.80 31.20L-85.00 552.00M441.80 31.20L-79.00 552.00M448.80 31.20L-72.00 552.00M454.80 31.20L-66.00 552.00M460.80 31.20L-60.00 552.00M467.80 31.20L-53.00 552.00M473.80 31.20L-47.00 552.00M480.80 31.20L-40.00 552.00M486.80 31.20L-34.00 552.00M492.80 31.20L-28.00 552.00M499.80 31.20L-21.00 552.00M505.80 31.20L-15.00 552.00M512.80 31.20L-8.00 552.00M518.80 31.20L-2.00 552.00M525.80 31.20L5.00 552.00M531.80 31.20L11.00 552.00M537.80 31.20L17.00 552.00M544.80 31.20L24.00 552.00M550.80 31.20L30.00 552.00M557.80 31.20L37.00 552.00M563.80 31.20L43.00 552.00M570.80 31.20L50.00 552.00M576.80 31.20L56.00 552.00M582.80 31.20L62.00 552.00M589.80 31.20L69.00 552.00M595.80 31.20L75.00 552.00M602.80 31.20L82.00 552.00M608.80 31.20L88.00 552.00M614.80 31.20L94.00 552.00M621.80 31.20L101.00 552.00M627.80 31.20L107.00 552.00M634.80 31.20L114.00 552.00M640.80 31.20L120.00 552.00M647.80 31.20L127.00 552.00M653.80 31.20L133.00 552.00M659.80 31.20L139.00 552.00M666.80 31.20L146.00 552.00M672.80 31.20L152.00 552.00M679.80 31.20L159.00 552.00M685.80 31.20L165.00 552.00M691.80 31.20L171.00 552.00M698.80 31.20L178.00 552.00M704.80 31.20L184.00 552.00M711.80 31.20L191.00 552.00M717.80 31.20L197.00 552.00M724.80 31.20L204.00 552.00M730.80 31.20L210.00 552.00M736.80 31.20L216.00 552.00M743.80 31.20L223.00 552.00M749.80 31.20L229.00 552.00M756.80 31.20L236.00 552.00M762.80 31.20L242.00 552.00M769.80 31.20L249.00 552.00M775.80 31.20L255.00 552.00M781.80 31.20L261.00 552.00M788.80 31.20L268.00 552.00M794.80 31.20L274.00 552.00M801.80 31.20L281.00 552.00M807.80 31.20L287.00 552.00M813.80 31.20L293.00 552.00M820.80 31.20L300.00 552.00M826.80 31.20L306.00 552.00M833.80 31.20L313.00 552.00M839.80 31.20L319.00 552.00M846.80 31.20L326.00 552.00M852.80 31.20L332.00 552.00M858.80 31.20L338.00 552.00M865.80 31.20L345.00 552.00M871.80 31.20L351.00 552.00M878.80 31.20L358.00 552.00M884.80 31.20L364.00 552.00M890.80 31.20L370.00 552.00M897.80 31.20L377.00 552.00M903.80 31.20L383.00 552.00M910.80 31.20L390.00 552.00M916.80 31.20L396.00 552.00M923.80 31.20L403.00 552.00M929.80 31.20L409.00 552.00M935.80 31.20L415.00 552.00M942.80 31.20L422.00 552.00M948.80 31.20L428.00 552.00M955.80 31.20L435.00 552.00M961.80 31.20L441.00 552.00M968.80 31.20L448.00 552.00M974.80 31.20L454.00 552.00M980.80 31.20L460.00 552.00" stroke="#000" stroke-width="1.15" stroke-opacity="0.55" fill="none"/><rect x="436.90" y="36.20" width="33.70" height="510.80" fill="none" stroke="#000" stroke-width="1.1" stroke-opacity="0.55"/><rect x="470.60" y="230.40" width="33.50" height="316.60" fill="#ff8080"/><path clip-path="url(#c10)" d="M138.40 225.40L465.00 552.00M144.40 225.40L471.00 552.00M151.40 225.40L478.00 552.00M157.40 225.40L484.00 552.00M163.40 225.40L490.00 552.00M170.40 225.40L497.00 552.00M176.40 225.40L503.00 552.00M183.40 225.40L510.00 552.00M189.40 225.40L516.00 552.00M196.40 225.40L523.00 552.00M202.40 225.40L529.00 552.00M208.40 225.40L535.00 552.00M215.40 225.40L542.00 552.00M221.40 225.40L548.00 552.00M228.40 225.40L555.00 552.00M234.40 225.40L561.00 552.00M241.40 225.40L568.00 552.00M247.40 225.40L574.00 552.00M253.40 225.40L580.00 552.00M260.40 225.40L587.00 552.00M266.40 225.40L593.00 552.00M273.40 225.40L600.00 552.00M279.40 225.40L606.00 552.00M285.40 225.40L612.00 552.00M292.40 225.40L619.00 552.00M298.40 225.40L625.00 552.00M305.40 225.40L632.00 552.00M311.40 225.40L638.00 552.00M318.40 225.40L645.00 552.00M324.40 225.40L651.00 552.00M330.40 225.40L657.00 552.00M337.40 225.40L664.00 552.00M343.40 225.40L670.00 552.00M350.40 225.40L677.00 552.00M356.40 225.40L683.00 552.00M362.40 225.40L689.00 552.00M369.40 225.40L696.00 552.00M375.40 225.40L702.00 552.00M382.40 225.40L709.00 552.00M388.40 225.40L715.00 552.00M395.40 225.40L722.00 552.00M401.40 225.40L728.00 552.00M407.40 225.40L734.00 552.00M414.40 225.40L741.00 552.00M420.40 225.40L747.00 552.00M427.40 225.40L754.00 552.00M433.40 225.40L760.00 552.00M440.40 225.40L767.00 552.00M446.40 225.40L773.00 552.00M452.40 225.40L779.00 552.00M459.40 225.40L786.00 552.00M465.40 225.40L792.00 552.00M472.40 225.40L799.00 552.00M478.40 225.40L805.00 552.00M484.40 225.40L811.00 552.00M491.40 225.40L818.00 552.00M497.40 225.40L824.00 552.00" stroke="#000" stroke-width="1.15" stroke-opacity="0.55" fill="none"/><path clip-path="url(#c10)" d="M470.60 230.40L504.10 263.90" stroke="#000" stroke-width="1.3" stroke-opacity="0.5" fill="none"/><rect x="470.60" y="230.40" width="33.50" height="316.60" fill="none" stroke="#000" stroke-width="1.1" stroke-opacity="0.55"/><rect x="504.10" y="193.30" width="33.60" height="353.70" fill="#ff8080"/><path clip-path="url(#c11)" d="M133.16 188.30L496.86 552.00M139.58 188.30L503.28 552.00M146.00 188.30L509.70 552.00M152.42 188.30L516.12 552.00M158.84 188.30L522.54 552.00M165.26 188.30L528.96 552.00M171.68 188.30L535.38 552.00M178.10 188.30L541.80 552.00M184.52 188.30L548.22 552.00M190.94 188.30L554.64 552.00M197.36 188.30L561.06 552.00M203.78 188.30L567.48 552.00M210.20 188.30L573.90 552.00M216.62 188.30L580.32 552.00M223.04 188.30L586.74 552.00M229.46 188.30L593.16 552.00M235.88 188.30L599.58 552.00M242.30 188.30L606.00 552.00M248.72 188.30L612.42 552.00M255.14 188.30L618.84 552.00M261.56 188.30L625.26 552.00M267.98 188.30L631.68 552.00M274.40 188.30L638.10 552.00M280.82 188.30L644.52 552.00M287.24 188.30L650.94 552.00M293.66 188.30L657.36 552.00M300.08 188.30L663.78 552.00M306.50 188.30L670.20 552.00M312.92 188.30L676.62 552.00M319.34 188.30L683.04 552.00M325.76 188.30L689.46 552.00M332.18 188.30L695.88 552.00M338.60 188.30L702.30 552.00M345.02 188.30L708.72 552.00M351.44 188.30L715.14 552.00M357.86 188.30L721.56 552.00M364.28 188.30L727.98 552.00M370.70 188.30L734.40 552.00M377.12 188.30L740.82 552.00M383.54 188.30L747.24 552.00M389.96 188.30L753.66 552.00M396.38 188.30L760.08 552.00M402.80 188.30L766.50 552.00M409.22 188.30L772.92 552.00M415.64 188.30L779.34 552.00M422.06 188.30L785.76 552.00M428.48 188.30L792.18 552.00M434.90 188.30L798.60 552.00M441.32 188.30L805.02 552.00M447.74 188.30L811.44 552.00M454.16 188.30L817.86 552.00M460.58 188.30L824.28 552.00M467.00 188.30L830.70 552.00M473.42 188.30L837.12 552.00M479.84 188.30L843.54 552.00M486.26 188.30L849.96 552.00M492.68 188.30L856.38 552.00M499.10 188.30L862.80 552.00M505.52 188.30L869.22 552.00M511.94 188.30L875.64 552.00M518.36 188.30L882.06 552.00M524.78 188.30L888.48 552.00M531.20 188.30L894.90 552.00M502.68 188.30L138.98 552.00M509.10 188.30L145.40 552.00M515.52 188.30L151.82 552.00M521.94 188.30L158.24 552.00M528.36 188.30L164.66 552.00M534.78 188.30L171.08 552.00M541.20 188.30L177.50 552.00M547.62 188.30L183.92 552.00M554.04 188.30L190.34 552.00M560.46 188.30L196.76 552.00M566.88 188.30L203.18 552.00M573.30 188.30L209.60 552.00M579.72 188.30L216.02 552.00M586.14 188.30L222.44 552.00M592.56 188.30L228.86 552.00M598.98 188.30L235.28 552.00M605.40 188.30L241.70 552.00M611.82 188.30L248.12 552.00M618.24 188.30L254.54 552.00M624.66 188.30L260.96 552.00M631.08 188.30L267.38 552.00M637.50 188.30L273.80 552.00M643.92 188.30L280.22 552.00M650.34 188.30L286.64 552.00M656.76 188.30L293.06 552.00M663.18 188.30L299.48 552.00M669.60 188.30L305.90 552.00M676.02 188.30L312.32 552.00M682.44 188.30L318.74 552.00M688.86 188.30L325.16 552.00M695.28 188.30L331.58 552.00M701.70 188.30L338.00 552.00M708.12 188.30L344.42 552.00M714.54 188.30L350.84 552.00M720.96 188.30L357.26 552.00M727.38 188.30L363.68 552.00M733.80 188.30L370.10 552.00M740.22 188.30L376.52 552.00M746.64 188.30L382.94 552.00M753.06 188.30L389.36 552.00M759.48 188.30L395.78 552.00M765.90 188.30L402.20 552.00M772.32 188.30L408.62 552.00M778.74 188.30L415.04 552.00M785.16 188.30L421.46 552.00M791.58 188.30L427.88 552.00M798.00 188.30L434.30 552.00M804.42 188.30L440.72 552.00M810.84 188.30L447.14 552.00M817.26 188.30L453.56 552.00M823.68 188.30L459.98 552.00M830.10 188.30L466.40 552.00M836.52 188.30L472.82 552.00M842.94 188.30L479.24 552.00M849.36 188.30L485.66 552.00M855.78 188.30L492.08 552.00M862.20 188.30L498.50 552.00M868.62 188.30L504.92 552.00M875.04 188.30L511.34 552.00M881.46 188.30L517.76 552.00M887.88 188.30L524.18 552.00M894.30 188.30L530.60 552.00" stroke="#000" stroke-width="1.0" stroke-opacity="0.5" fill="none"/><path clip-path="url(#c11)" d="M504.1 193.3h0M504.1 199.7h0M507.3 196.5h0M510.5 193.3h0M504.1 206.1h0M507.3 202.9h0M510.5 199.7h0M513.7 196.5h0M516.9 193.3h0M504.1 212.6h0M507.3 209.4h0M510.5 206.1h0M513.7 202.9h0M516.9 199.7h0M520.2 196.5h0M523.4 193.3h0M504.1 219.0h0M507.3 215.8h0M510.5 212.6h0M513.7 209.4h0M516.9 206.1h0M520.2 202.9h0M523.4 199.7h0M526.6 196.5h0M529.8 193.3h0M504.1 225.4h0M507.3 222.2h0M510.5 219.0h0M513.7 215.8h0M516.9 212.6h0M520.2 209.4h0M523.4 206.1h0M526.6 202.9h0M529.8 199.7h0M533.0 196.5h0M536.2 193.3h0M504.1 231.8h0M507.3 228.6h0M510.5 225.4h0M513.7 222.2h0M516.9 219.0h0M520.2 215.8h0M523.4 212.6h0M526.6 209.4h0M529.8 206.1h0M533.0 202.9h0M536.2 199.7h0M504.1 238.2h0M507.3 235.0h0M510.5 231.8h0M513.7 228.6h0M516.9 225.4h0M520.2 222.2h0M523.4 219.0h0M526.6 215.8h0M529.8 212.6h0M533.0 209.4h0M536.2 206.1h0M504.1 244.7h0M507.3 241.5h0M510.5 238.2h0M513.7 235.0h0M516.9 231.8h0M520.2 228.6h0M523.4 225.4h0M526.6 222.2h0M529.8 219.0h0M533.0 215.8h0M536.2 212.6h0M504.1 251.1h0M507.3 247.9h0M510.5 244.7h0M513.7 241.5h0M516.9 238.2h0M520.2 235.0h0M523.4 231.8h0M526.6 228.6h0M529.8 225.4h0M533.0 222.2h0M536.2 219.0h0M504.1 257.5h0M507.3 254.3h0M510.5 251.1h0M513.7 247.9h0M516.9 244.7h0M520.2 241.5h0M523.4 238.2h0M526.6 235.0h0M529.8 231.8h0M533.0 228.6h0M536.2 225.4h0M504.1 263.9h0M507.3 260.7h0M510.5 257.5h0M513.7 254.3h0M516.9 251.1h0M520.2 247.9h0M523.4 244.7h0M526.6 241.5h0M529.8 238.2h0M533.0 235.0h0M536.2 231.8h0M504.1 270.3h0M507.3 267.1h0M510.5 263.9h0M513.7 260.7h0M516.9 257.5h0M520.2 254.3h0M523.4 251.1h0M526.6 247.9h0M529.8 244.7h0M533.0 241.5h0M536.2 238.2h0M504.1 276.8h0M507.3 273.6h0M510.5 270.3h0M513.7 267.1h0M516.9 263.9h0M520.2 260.7h0M523.4 257.5h0M526.6 254.3h0M529.8 251.1h0M533.0 247.9h0M536.2 244.7h0M504.1 283.2h0M507.3 280.0h0M510.5 276.8h0M513.7 273.6h0M516.9 270.3h0M520.2 267.1h0M523.4 263.9h0M526.6 260.7h0M529.8 257.5h0M533.0 254.3h0M536.2 251.1h0M504.1 289.6h0M507.3 286.4h0M510.5 283.2h0M513.7 280.0h0M516.9 276.8h0M520.2 273.6h0M523.4 270.3h0M526.6 267.1h0M529.8 263.9h0M533.0 260.7h0M536.2 257.5h0M504.1 296.0h0M507.3 292.8h0M510.5 289.6h0M513.7 286.4h0M516.9 283.2h0M520.2 280.0h0M523.4 276.8h0M526.6 273.6h0M529.8 270.3h0M533.0 267.1h0M536.2 263.9h0M504.1 302.4h0M507.3 299.2h0M510.5 296.0h0M513.7 292.8h0M516.9 289.6h0M520.2 286.4h0M523.4 283.2h0M526.6 280.0h0M529.8 276.8h0M533.0 273.6h0M536.2 270.3h0M504.1 308.9h0M507.3 305.6h0M510.5 302.4h0M513.7 299.2h0M516.9 296.0h0M520.2 292.8h0M523.4 289.6h0M526.6 286.4h0M529.8 283.2h0M533.0 280.0h0M536.2 276.8h0M504.1 315.3h0M507.3 312.1h0M510.5 308.9h0M513.7 305.7h0M516.9 302.4h0M520.2 299.2h0M523.4 296.0h0M526.6 292.8h0M529.8 289.6h0M533.0 286.4h0M536.2 283.2h0M504.1 321.7h0M507.3 318.5h0M510.5 315.3h0M513.7 312.1h0M516.9 308.9h0M520.2 305.7h0M523.4 302.4h0M526.6 299.2h0M529.8 296.0h0M533.0 292.8h0M536.2 289.6h0M504.1 328.1h0M507.3 324.9h0M510.5 321.7h0M513.7 318.5h0M516.9 315.3h0M520.1 312.1h0M523.4 308.9h0M526.6 305.6h0M529.8 302.4h0M533.0 299.2h0M536.2 296.0h0M504.1 334.5h0M507.3 331.3h0M510.5 328.1h0M513.7 324.9h0M516.9 321.7h0M520.2 318.5h0M523.4 315.3h0M526.6 312.1h0M529.8 308.9h0M533.0 305.7h0M536.2 302.4h0M504.1 341.0h0M507.3 337.8h0M510.5 334.5h0M513.7 331.3h0M516.9 328.1h0M520.2 324.9h0M523.4 321.7h0M526.6 318.5h0M529.8 315.3h0M533.0 312.1h0M536.2 308.9h0M504.1 347.4h0M507.3 344.2h0M510.5 341.0h0M513.7 337.8h0M516.9 334.5h0M520.1 331.3h0M523.4 328.1h0M526.6 324.9h0M529.8 321.7h0M533.0 318.5h0M536.2 315.3h0M504.1 353.8h0M507.3 350.6h0M510.5 347.4h0M513.7 344.2h0M516.9 341.0h0M520.2 337.8h0M523.4 334.5h0M526.6 331.3h0M529.8 328.1h0M533.0 324.9h0M536.2 321.7h0M504.1 360.2h0M507.3 357.0h0M510.5 353.8h0M513.7 350.6h0M516.9 347.4h0M520.2 344.2h0M523.4 341.0h0M526.6 337.8h0M529.8 334.5h0M533.0 331.3h0M536.2 328.1h0M504.1 366.6h0M507.3 363.4h0M510.5 360.2h0M513.7 357.0h0M516.9 353.8h0M520.2 350.6h0M523.4 347.4h0M526.6 344.2h0M529.8 341.0h0M533.0 337.8h0M536.2 334.5h0M504.1 373.1h0M507.3 369.9h0M510.5 366.6h0M513.7 363.4h0M516.9 360.2h0M520.2 357.0h0M523.4 353.8h0M526.6 350.6h0M529.8 347.4h0M533.0 344.2h0M536.2 341.0h0M504.1 379.5h0M507.3 376.3h0M510.5 373.1h0M513.7 369.9h0M516.9 366.6h0M520.2 363.4h0M523.4 360.2h0M526.6 357.0h0M529.8 353.8h0M533.0 350.6h0M536.2 347.4h0M504.1 385.9h0M507.3 382.7h0M510.5 379.5h0M513.7 376.3h0M516.9 373.1h0M520.2 369.9h0M523.4 366.6h0M526.6 363.4h0M529.8 360.2h0M533.0 357.0h0M536.2 353.8h0M504.1 392.3h0M507.3 389.1h0M510.5 385.9h0M513.7 382.7h0M516.9 379.5h0M520.2 376.3h0M523.4 373.1h0M526.6 369.9h0M529.8 366.6h0M533.0 363.4h0M536.2 360.2h0M504.1 398.7h0M507.3 395.5h0M510.5 392.3h0M513.7 389.1h0M516.9 385.9h0M520.2 382.7h0M523.4 379.5h0M526.6 376.3h0M529.8 373.1h0M533.0 369.9h0M536.2 366.6h0M504.1 405.2h0M507.3 402.0h0M510.5 398.7h0M513.7 395.5h0M516.9 392.3h0M520.2 389.1h0M523.4 385.9h0M526.6 382.7h0M529.8 379.5h0M533.0 376.3h0M536.2 373.1h0M504.1 411.6h0M507.3 408.4h0M510.5 405.2h0M513.7 402.0h0M516.9 398.7h0M520.2 395.5h0M523.4 392.3h0M526.6 389.1h0M529.8 385.9h0M533.0 382.7h0M536.2 379.5h0M504.1 418.0h0M507.3 414.8h0M510.5 411.6h0M513.7 408.4h0M516.9 405.2h0M520.2 402.0h0M523.4 398.7h0M526.6 395.5h0M529.8 392.3h0M533.0 389.1h0M536.2 385.9h0M504.1 424.4h0M507.3 421.2h0M510.5 418.0h0M513.7 414.8h0M516.9 411.6h0M520.2 408.4h0M523.4 405.2h0M526.6 402.0h0M529.8 398.7h0M533.0 395.5h0M536.2 392.3h0M504.1 430.8h0M507.3 427.6h0M510.5 424.4h0M513.7 421.2h0M516.9 418.0h0M520.2 414.8h0M523.4 411.6h0M526.6 408.4h0M529.8 405.2h0M533.0 402.0h0M536.2 398.7h0M504.1 437.3h0M507.3 434.1h0M510.5 430.8h0M513.7 427.6h0M516.9 424.4h0M520.2 421.2h0M523.4 418.0h0M526.6 414.8h0M529.8 411.6h0M533.0 408.4h0M536.2 405.2h0M504.1 443.7h0M507.3 440.5h0M510.5 437.3h0M513.7 434.1h0M516.9 430.8h0M520.2 427.6h0M523.4 424.4h0M526.6 421.2h0M529.8 418.0h0M533.0 414.8h0M536.2 411.6h0M504.1 450.1h0M507.3 446.9h0M510.5 443.7h0M513.7 440.5h0M516.9 437.3h0M520.2 434.1h0M523.4 430.8h0M526.6 427.6h0M529.8 424.4h0M533.0 421.2h0M536.2 418.0h0M504.1 456.5h0M507.3 453.3h0M510.5 450.1h0M513.7 446.9h0M516.9 443.7h0M520.2 440.5h0M523.4 437.3h0M526.6 434.1h0M529.8 430.8h0M533.0 427.6h0M536.2 424.4h0M504.1 462.9h0M507.3 459.7h0M510.5 456.5h0M513.7 453.3h0M516.9 450.1h0M520.2 446.9h0M523.4 443.7h0M526.6 440.5h0M529.8 437.3h0M533.0 434.1h0M536.2 430.8h0M504.1 469.4h0M507.3 466.1h0M510.5 462.9h0M513.7 459.7h0M516.9 456.5h0M520.1 453.3h0M523.4 450.1h0M526.6 446.9h0M529.8 443.7h0M533.0 440.5h0M536.2 437.3h0M504.1 475.8h0M507.3 472.6h0M510.5 469.4h0M513.7 466.2h0M516.9 462.9h0M520.2 459.7h0M523.4 456.5h0M526.6 453.3h0M529.8 450.1h0M533.0 446.9h0M536.2 443.7h0M504.1 482.2h0M507.3 479.0h0M510.5 475.8h0M513.7 472.6h0M516.9 469.4h0M520.2 466.2h0M523.4 462.9h0M526.6 459.7h0M529.8 456.5h0M533.0 453.3h0M536.2 450.1h0M504.1 488.6h0M507.3 485.4h0M510.5 482.2h0M513.7 479.0h0M516.9 475.8h0M520.2 472.6h0M523.4 469.4h0M526.6 466.1h0M529.8 462.9h0M533.0 459.7h0M536.2 456.5h0M504.1 495.0h0M507.3 491.8h0M510.5 488.6h0M513.7 485.4h0M516.9 482.2h0M520.2 479.0h0M523.4 475.8h0M526.6 472.6h0M529.8 469.4h0M533.0 466.2h0M536.2 462.9h0M504.1 501.5h0M507.3 498.2h0M510.5 495.0h0M513.7 491.8h0M516.9 488.6h0M520.2 485.4h0M523.4 482.2h0M526.6 479.0h0M529.8 475.8h0M533.0 472.6h0M536.2 469.4h0M504.1 507.9h0M507.3 504.7h0M510.5 501.5h0M513.7 498.2h0M516.9 495.0h0M520.1 491.8h0M523.4 488.6h0M526.6 485.4h0M529.8 482.2h0M533.0 479.0h0M536.2 475.8h0M504.1 514.3h0M507.3 511.1h0M510.5 507.9h0M513.7 504.7h0M516.9 501.5h0M520.2 498.2h0M523.4 495.0h0M526.6 491.8h0M529.8 488.6h0M533.0 485.4h0M536.2 482.2h0M504.1 520.7h0M507.3 517.5h0M510.5 514.3h0M513.7 511.1h0M516.9 507.9h0M520.2 504.7h0M523.4 501.5h0M526.6 498.3h0M529.8 495.0h0M533.0 491.8h0M536.2 488.6h0M504.1 527.1h0M507.3 523.9h0M510.5 520.7h0M513.7 517.5h0M516.9 514.3h0M520.1 511.1h0M523.4 507.9h0M526.6 504.7h0M529.8 501.5h0M533.0 498.2h0M536.2 495.0h0M504.1 533.6h0M507.3 530.4h0M510.5 527.1h0M513.7 523.9h0M516.9 520.7h0M520.2 517.5h0M523.4 514.3h0M526.6 511.1h0M529.8 507.9h0M533.0 504.7h0M536.2 501.5h0M504.1 540.0h0M507.3 536.8h0M510.5 533.6h0M513.7 530.4h0M516.9 527.1h0M520.2 523.9h0M523.4 520.7h0M526.6 517.5h0M529.8 514.3h0M533.0 511.1h0M536.2 507.9h0M504.1 546.4h0M507.3 543.2h0M510.5 540.0h0M513.7 536.8h0M516.9 533.6h0M520.1 530.4h0M523.4 527.1h0M526.6 523.9h0M529.8 520.7h0M533.0 517.5h0M536.2 514.3h0M510.5 546.4h0M513.7 543.2h0M516.9 540.0h0M520.2 536.8h0M523.4 533.6h0M526.6 530.4h0M529.8 527.1h0M533.0 523.9h0M536.2 520.7h0M516.9 546.4h0M520.2 543.2h0M523.4 540.0h0M526.6 536.8h0M529.8 533.6h0M533.0 530.4h0M536.2 527.1h0M523.4 546.4h0M526.6 543.2h0M529.8 540.0h0M533.0 536.8h0M536.2 533.6h0M529.8 546.4h0M533.0 543.2h0M536.2 540.0h0M536.2 546.4h0" stroke="#000" stroke-linecap="round" stroke-width="1.8" stroke-opacity="0.6"/><path clip-path="url(#c11)" d="M504.10 193.30L537.70 226.90" stroke="#000" stroke-width="1.3" stroke-opacity="0.5" fill="none"/><rect x="504.10" y="193.30" width="33.60" height="353.70" fill="none" stroke="#000" stroke-width="1.1" stroke-opacity="0.55"/><rect x="537.70" y="147.60" width="33.40" height="399.40" fill="#ff8080"/><path clip-path="url(#c12)" d="M537.70 152.27H571.10M537.70 156.95H571.10M537.70 161.62H571.10M537.70 166.29H571.10M537.70 170.97H571.10M537.70 175.64H571.10M537.70 180.31H571.10M537.70 184.98H571.10M537.70 189.66H571.10M537.70 194.33H571.10M537.70 199.00H571.10M537.70 203.68H571.10M537.70 208.35H571.10M537.70 213.02H571.10M537.70 217.70H571.10M537.70 222.37H571.10M537.70 227.04H571.10M537.70 231.71H571.10M537.70 236.39H571.10M537.70 241.06H571.10M537.70 245.73H571.10M537.70 250.41H571.10M537.70 255.08H571.10M537.70 259.75H571.10M537.70 264.43H571.10M537.70 269.10H571.10M537.70 273.77H571.10M537.70 278.44H571.10M537.70 283.12H571.10M537.70 287.79H571.10M537.70 292.46H571.10M537.70 297.14H571.10M537.70 301.81H571.10M537.70 306.48H571.10M537.70 311.16H571.10M537.70 315.83H571.10M537.70 320.50H571.10M537.70 325.17H571.10M537.70 329.85H571.10M537.70 334.52H571.10M537.70 339.19H571.10M537.70 343.87H571.10M537.70 348.54H571.10M537.70 353.21H571.10M537.70 357.89H571.10M537.70 362.56H571.10M537.70 367.23H571.10M537.70 371.90H571.10M537.70 376.58H571.10M537.70 381.25H571.10M537.70 385.92H571.10M537.70 390.60H571.10M537.70 395.27H571.10M537.70 399.94H571.10M537.70 404.62H571.10M537.70 409.29H571.10M537.70 413.96H571.10M537.70 418.63H571.10M537.70 423.31H571.10M537.70 427.98H571.10M537.70 432.65H571.10M537.70 437.33H571.10M537.70 442.00H571.10M537.70 446.67H571.10M537.70 451.35H571.10M537.70 456.02H571.10M537.70 460.69H571.10M537.70 465.36H571.10M537.70 470.04H571.10M537.70 474.71H571.10M537.70 479.38H571.10M537.70 484.06H571.10M537.70 488.73H571.10M537.70 493.40H571.10M537.70 498.08H571.10M537.70 502.75H571.10M537.70 507.42H571.10M537.70 512.09H571.10M537.70 516.77H571.10M537.70 521.44H571.10M537.70 526.11H571.10M537.70 530.79H571.10M537.70 535.46H571.10M537.70 540.13H571.10M537.70 544.81H571.10" stroke="#000" stroke-width="1.0" stroke-opacity="0.55" fill="none"/><rect x="537.70" y="147.60" width="33.40" height="399.40" fill="none" stroke="#000" stroke-width="1.1" stroke-opacity="0.55"/><rect x="604.80" y="134.90" width="33.70" height="412.10" fill="#ff80ff"/><path clip-path="url(#c13)" d="M603.10 129.90L181.00 552.00M610.10 129.90L188.00 552.00M616.10 129.90L194.00 552.00M623.10 129.90L201.00 552.00M629.10 129.90L207.00 552.00M635.10 129.90L213.00 552.00M642.10 129.90L220.00 552.00M648.10 129.90L226.00 552.00M655.10 129.90L233.00 552.00M661.10 129.90L239.00 552.00M667.10 129.90L245.00 552.00M674.10 129.90L252.00 552.00M680.10 129.90L258.00 552.00M687.10 129.90L265.00 552.00M693.10 129.90L271.00 552.00M700.10 129.90L278.00 552.00M706.10 129.90L284.00 552.00M712.10 129.90L290.00 552.00M719.10 129.90L297.00 552.00M725.10 129.90L303.00 552.00M732.10 129.90L310.00 552.00M738.10 129.90L316.00 552.00M745.10 129.90L323.00 552.00M751.10 129.90L329.00 552.00M757.10 129.90L335.00 552.00M764.10 129.90L342.00 552.00M770.10 129.90L348.00 552.00M777.10 129.90L355.00 552.00M783.10 129.90L361.00 552.00M789.10 129.90L367.00 552.00M796.10 129.90L374.00 552.00M802.10 129.90L380.00 552.00M809.10 129.90L387.00 552.00M815.10 129.90L393.00 552.00M822.10 129.90L400.00 552.00M828.10 129.90L406.00 552.00M834.10 129.90L412.00 552.00M841.10 129.90L419.00 552.00M847.10 129.90L425.00 552.00M854.10 129.90L432.00 552.00M860.10 129.90L438.00 552.00M866.10 129.90L444.00 552.00M873.10 129.90L451.00 552.00M879.10 129.90L457.00 552.00M886.10 129.90L464.00 552.00M892.10 129.90L470.00 552.00M899.10 129.90L477.00 552.00M905.10 129.90L483.00 552.00M911.10 129.90L489.00 552.00M918.10 129.90L496.00 552.00M924.10 129.90L502.00 552.00M931.10 129.90L509.00 552.00M937.10 129.90L515.00 552.00M944.10 129.90L522.00 552.00M950.10 129.90L528.00 552.00M956.10 129.90L534.00 552.00M963.10 129.90L541.00 552.00M969.10 129.90L547.00 552.00M976.10 129.90L554.00 552.00M982.10 129.90L560.00 552.00M988.10 129.90L566.00 552.00M995.10 129.90L573.00 552.00M1001.10 129.90L579.00 552.00M1008.10 129.90L586.00 552.00M1014.10 129.90L592.00 552.00M1021.10 129.90L599.00 552.00M1027.10 129.90L605.00 552.00M1033.10 129.90L611.00 552.00M1040.10 129.90L618.00 552.00M1046.10 129.90L624.00 552.00M1053.10 129.90L631.00 552.00" stroke="#000" stroke-width="1.15" stroke-opacity="0.55" fill="none"/><rect x="604.80" y="134.90" width="33.70" height="412.10" fill="none" stroke="#000" stroke-width="1.1" stroke-opacity="0.55"/><rect x="638.50" y="237.70" width="33.00" height="309.30" fill="#ff80ff"/><path clip-path="url(#c14)" d="M312.70 232.70L632.00 552.00M318.70 232.70L638.00 552.00M325.70 232.70L645.00 552.00M331.70 232.70L651.00 552.00M337.70 232.70L657.00 552.00M344.70 232.70L664.00 552.00M350.70 232.70L670.00 552.00M357.70 232.70L677.00 552.00M363.70 232.70L683.00 552.00M370.70 232.70L690.00 552.00M376.70 232.70L696.00 552.00M382.70 232.70L702.00 552.00M389.70 232.70L709.00 552.00M395.70 232.70L715.00 552.00M402.70 232.70L722.00 552.00M408.70 232.70L728.00 552.00M415.70 232.70L735.00 552.00M421.70 232.70L741.00 552.00M427.70 232.70L747.00 552.00M434.70 232.70L754.00 552.00M440.70 232.70L760.00 552.00M447.70 232.70L767.00 552.00M453.70 232.70L773.00 552.00M459.70 232.70L779.00 552.00M466.70 232.70L786.00 552.00M472.70 232.70L792.00 552.00M479.70 232.70L799.00 552.00M485.70 232.70L805.00 552.00M492.70 232.70L812.00 552.00M498.70 232.70L818.00 552.00M504.70 232.70L824.00 552.00M511.70 232.70L831.00 552.00M517.70 232.70L837.00 552.00M524.70 232.70L844.00 552.00M530.70 232.70L850.00 552.00M536.70 232.70L856.00 552.00M543.70 232.70L863.00 552.00M549.70 232.70L869.00 552.00M556.70 232.70L876.00 552.00M562.70 232.70L882.00 552.00M569.70 232.70L889.00 552.00M575.70 232.70L895.00 552.00M581.70 232.70L901.00 552.00M588.70 232.70L908.00 552.00M594.70 232.70L914.00 552.00M601.70 232.70L921.00 552.00M607.70 232.70L927.00 552.00M614.70 232.70L934.00 552.00M620.70 232.70L940.00 552.00M626.70 232.70L946.00 552.00M633.70 232.70L953.00 552.00M639.70 232.70L959.00 552.00M646.70 232.70L966.00 552.00M652.70 232.70L972.00 552.00M658.70 232.70L978.00 552.00M665.70 232.70L985.00 552.00" stroke="#000" stroke-width="1.15" stroke-opacity="0.55" fill="none"/><path clip-path="url(#c14)" d="M638.50 237.70L671.50 270.70" stroke="#000" stroke-width="1.3" stroke-opacity="0.5" fill="none"/><rect x="638.50" y="237.70" width="33.00" height="309.30" fill="none" stroke="#000" stroke-width="1.1" stroke-opacity="0.55"/><rect x="671.50" y="193.10" width="33.40" height="353.90" fill="#ff80ff"/><path clip-path="url(#c15)" d="M300.56 188.10L664.46 552.00M306.98 188.10L670.88 552.00M313.40 188.10L677.30 552.00M319.82 188.10L683.72 552.00M326.24 188.10L690.14 552.00M332.66 188.10L696.56 552.00M339.08 188.10L702.98 552.00M345.50 188.10L709.40 552.00M351.92 188.10L715.82 552.00M358.34 188.10L722.24 552.00M364.76 188.10L728.66 552.00M371.18 188.10L735.08 552.00M377.60 188.10L741.50 552.00M384.02 188.10L747.92 552.00M390.44 188.10L754.34 552.00M396.86 188.10L760.76 552.00M403.28 188.10L767.18 552.00M409.70 188.10L773.60 552.00M416.12 188.10L780.02 552.00M422.54 188.10L786.44 552.00M428.96 188.10L792.86 552.00M435.38 188.10L799.28 552.00M441.80 188.10L805.70 552.00M448.22 188.10L812.12 552.00M454.64 188.10L818.54 552.00M461.06 188.10L824.96 552.00M467.48 188.10L831.38 552.00M473.90 188.10L837.80 552.00M480.32 188.10L844.22 552.00M486.74 188.10L850.64 552.00M493.16 188.10L857.06 552.00M499.58 188.10L863.48 552.00M506.00 188.10L869.90 552.00M512.42 188.10L876.32 552.00M518.84 188.10L882.74 552.00M525.26 188.10L889.16 552.00M531.68 188.10L895.58 552.00M538.10 188.10L902.00 552.00M544.52 188.10L908.42 552.00M550.94 188.10L914.84 552.00M557.36 188.10L921.26 552.00M563.78 188.10L927.68 552.00M570.20 188.10L934.10 552.00M576.62 188.10L940.52 552.00M583.04 188.10L946.94 552.00M589.46 188.10L953.36 552.00M595.88 188.10L959.78 552.00M602.30 188.10L966.20 552.00M608.72 188.10L972.62 552.00M615.14 188.10L979.04 552.00M621.56 188.10L985.46 552.00M627.98 188.10L991.88 552.00M634.40 188.10L998.30 552.00M640.82 188.10L1004.72 552.00M647.24 188.10L1011.14 552.00M653.66 188.10L1017.56 552.00M660.08 188.10L1023.98 552.00M666.50 188.10L1030.40 552.00M672.92 188.10L1036.82 552.00M679.34 188.10L1043.24 552.00M685.76 188.10L1049.66 552.00M692.18 188.10L1056.08 552.00M698.60 188.10L1062.50 552.00M670.08 188.10L306.18 552.00M676.50 188.10L312.60 552.00M682.92 188.10L319.02 552.00M689.34 188.10L325.44 552.00M695.76 188.10L331.86 552.00M702.18 188.10L338.28 552.00M708.60 188.10L344.70 552.00M715.02 188.10L351.12 552.00M721.44 188.10L357.54 552.00M727.86 188.10L363.96 552.00M734.28 188.10L370.38 552.00M740.70 188.10L376.80 552.00M747.12 188.10L383.22 552.00M753.54 188.10L389.64 552.00M759.96 188.10L396.06 552.00M766.38 188.10L402.48 552.00M772.80 188.10L408.90 552.00M779.22 188.10L415.32 552.00M785.64 188.10L421.74 552.00M792.06 188.10L428.16 552.00M798.48 188.10L434.58 552.00M804.90 188.10L441.00 552.00M811.32 188.10L447.42 552.00M817.74 188.10L453.84 552.00M824.16 188.10L460.26 552.00M830.58 188.10L466.68 552.00M837.00 188.10L473.10 552.00M843.42 188.10L479.52 552.00M849.84 188.10L485.94 552.00M856.26 188.10L492.36 552.00M862.68 188.10L498.78 552.00M869.10 188.10L505.20 552.00M875.52 188.10L511.62 552.00M881.94 188.10L518.04 552.00M888.36 188.10L524.46 552.00M894.78 188.10L530.88 552.00M901.20 188.10L537.30 552.00M907.62 188.10L543.72 552.00M914.04 188.10L550.14 552.00M920.46 188.10L556.56 552.00M926.88 188.10L562.98 552.00M933.30 188.10L569.40 552.00M939.72 188.10L575.82 552.00M946.14 188.10L582.24 552.00M952.56 188.10L588.66 552.00M958.98 188.10L595.08 552.00M965.40 188.10L601.50 552.00M971.82 188.10L607.92 552.00M978.24 188.10L614.34 552.00M984.66 188.10L620.76 552.00M991.08 188.10L627.18 552.00M997.50 188.10L633.60 552.00M1003.92 188.10L640.02 552.00M1010.34 188.10L646.44 552.00M1016.76 188.10L652.86 552.00M1023.18 188.10L659.28 552.00M1029.60 188.10L665.70 552.00M1036.02 188.10L672.12 552.00M1042.44 188.10L678.54 552.00M1048.86 188.10L684.96 552.00M1055.28 188.10L691.38 552.00M1061.70 188.10L697.80 552.00" stroke="#000" stroke-width="1.0" stroke-opacity="0.5" fill="none"/><path clip-path="url(#c15)" d="M671.5 193.1h0M671.5 199.5h0M674.7 196.3h0M677.9 193.1h0M671.5 205.9h0M674.7 202.7h0M677.9 199.5h0M681.1 196.3h0M684.3 193.1h0M671.5 212.4h0M674.7 209.2h0M677.9 205.9h0M681.1 202.7h0M684.3 199.5h0M687.5 196.3h0M690.8 193.1h0M671.5 218.8h0M674.7 215.6h0M677.9 212.4h0M681.1 209.2h0M684.3 205.9h0M687.5 202.7h0M690.8 199.5h0M694.0 196.3h0M697.2 193.1h0M671.5 225.2h0M674.7 222.0h0M677.9 218.8h0M681.1 215.6h0M684.3 212.4h0M687.5 209.2h0M690.8 205.9h0M694.0 202.7h0M697.2 199.5h0M700.4 196.3h0M703.6 193.1h0M671.5 231.6h0M674.7 228.4h0M677.9 225.2h0M681.1 222.0h0M684.3 218.8h0M687.5 215.6h0M690.8 212.4h0M694.0 209.2h0M697.2 205.9h0M700.4 202.7h0M703.6 199.5h0M671.5 238.0h0M674.7 234.8h0M677.9 231.6h0M681.1 228.4h0M684.3 225.2h0M687.5 222.0h0M690.8 218.8h0M694.0 215.6h0M697.2 212.4h0M700.4 209.2h0M703.6 205.9h0M671.5 244.5h0M674.7 241.3h0M677.9 238.0h0M681.1 234.8h0M684.3 231.6h0M687.5 228.4h0M690.8 225.2h0M694.0 222.0h0M697.2 218.8h0M700.4 215.6h0M703.6 212.4h0M671.5 250.9h0M674.7 247.7h0M677.9 244.5h0M681.1 241.2h0M684.3 238.0h0M687.5 234.8h0M690.8 231.6h0M694.0 228.4h0M697.2 225.2h0M700.4 222.0h0M703.6 218.8h0M671.5 257.3h0M674.7 254.1h0M677.9 250.9h0M681.1 247.7h0M684.3 244.5h0M687.5 241.3h0M690.8 238.0h0M694.0 234.8h0M697.2 231.6h0M700.4 228.4h0M703.6 225.2h0M671.5 263.7h0M674.7 260.5h0M677.9 257.3h0M681.1 254.1h0M684.3 250.9h0M687.5 247.7h0M690.8 244.5h0M694.0 241.3h0M697.2 238.0h0M700.4 234.8h0M703.6 231.6h0M671.5 270.1h0M674.7 266.9h0M677.9 263.7h0M681.1 260.5h0M684.3 257.3h0M687.5 254.1h0M690.8 250.9h0M694.0 247.7h0M697.2 244.5h0M700.4 241.2h0M703.6 238.0h0M671.5 276.6h0M674.7 273.4h0M677.9 270.1h0M681.1 266.9h0M684.3 263.7h0M687.5 260.5h0M690.8 257.3h0M694.0 254.1h0M697.2 250.9h0M700.4 247.7h0M703.6 244.5h0M671.5 283.0h0M674.7 279.8h0M677.9 276.6h0M681.1 273.4h0M684.3 270.1h0M687.5 266.9h0M690.8 263.7h0M694.0 260.5h0M697.2 257.3h0M700.4 254.1h0M703.6 250.9h0M671.5 289.4h0M674.7 286.2h0M677.9 283.0h0M681.1 279.8h0M684.3 276.6h0M687.5 273.4h0M690.8 270.1h0M694.0 266.9h0M697.2 263.7h0M700.4 260.5h0M703.6 257.3h0M671.5 295.8h0M674.7 292.6h0M677.9 289.4h0M681.1 286.2h0M684.3 283.0h0M687.5 279.8h0M690.8 276.6h0M694.0 273.4h0M697.2 270.1h0M700.4 266.9h0M703.6 263.7h0M671.5 302.2h0M674.7 299.0h0M677.9 295.8h0M681.1 292.6h0M684.3 289.4h0M687.5 286.2h0M690.8 283.0h0M694.0 279.8h0M697.2 276.6h0M700.4 273.4h0M703.6 270.1h0M671.5 308.7h0M674.7 305.5h0M677.9 302.2h0M681.1 299.0h0M684.3 295.8h0M687.6 292.6h0M690.8 289.4h0M694.0 286.2h0M697.2 283.0h0M700.4 279.8h0M703.6 276.6h0M671.5 315.1h0M674.7 311.9h0M677.9 308.7h0M681.1 305.5h0M684.3 302.2h0M687.5 299.0h0M690.8 295.8h0M694.0 292.6h0M697.2 289.4h0M700.4 286.2h0M703.6 283.0h0M671.5 321.5h0M674.7 318.3h0M677.9 315.1h0M681.1 311.9h0M684.3 308.7h0M687.5 305.5h0M690.8 302.2h0M694.0 299.0h0M697.2 295.8h0M700.4 292.6h0M703.6 289.4h0M671.5 327.9h0M674.7 324.7h0M677.9 321.5h0M681.1 318.3h0M684.3 315.1h0M687.5 311.9h0M690.8 308.7h0M694.0 305.5h0M697.2 302.2h0M700.4 299.0h0M703.6 295.8h0M671.5 334.3h0M674.7 331.1h0M677.9 327.9h0M681.1 324.7h0M684.3 321.5h0M687.5 318.3h0M690.8 315.1h0M694.0 311.9h0M697.2 308.7h0M700.4 305.5h0M703.6 302.2h0M671.5 340.8h0M674.7 337.6h0M677.9 334.3h0M681.1 331.1h0M684.3 327.9h0M687.5 324.7h0M690.8 321.5h0M694.0 318.3h0M697.2 315.1h0M700.4 311.9h0M703.6 308.7h0M671.5 347.2h0M674.7 344.0h0M677.9 340.8h0M681.1 337.6h0M684.3 334.3h0M687.5 331.1h0M690.8 327.9h0M694.0 324.7h0M697.2 321.5h0M700.4 318.3h0M703.6 315.1h0M671.5 353.6h0M674.7 350.4h0M677.9 347.2h0M681.1 344.0h0M684.3 340.8h0M687.5 337.5h0M690.8 334.3h0M694.0 331.1h0M697.2 327.9h0M700.4 324.7h0M703.6 321.5h0M671.5 360.0h0M674.7 356.8h0M677.9 353.6h0M681.1 350.4h0M684.3 347.2h0M687.5 344.0h0M690.8 340.8h0M694.0 337.6h0M697.2 334.3h0M700.4 331.1h0M703.6 327.9h0M671.5 366.4h0M674.7 363.2h0M677.9 360.0h0M681.1 356.8h0M684.3 353.6h0M687.5 350.4h0M690.8 347.2h0M694.0 344.0h0M697.2 340.8h0M700.4 337.6h0M703.6 334.3h0M671.5 372.9h0M674.7 369.7h0M677.9 366.4h0M681.1 363.2h0M684.3 360.0h0M687.6 356.8h0M690.8 353.6h0M694.0 350.4h0M697.2 347.2h0M700.4 344.0h0M703.6 340.8h0M671.5 379.3h0M674.7 376.1h0M677.9 372.9h0M681.1 369.6h0M684.3 366.4h0M687.5 363.2h0M690.8 360.0h0M694.0 356.8h0M697.2 353.6h0M700.4 350.4h0M703.6 347.2h0M671.5 385.7h0M674.7 382.5h0M677.9 379.3h0M681.1 376.1h0M684.3 372.9h0M687.5 369.7h0M690.8 366.4h0M694.0 363.2h0M697.2 360.0h0M700.4 356.8h0M703.6 353.6h0M671.5 392.1h0M674.7 388.9h0M677.9 385.7h0M681.1 382.5h0M684.3 379.3h0M687.6 376.1h0M690.8 372.9h0M694.0 369.7h0M697.2 366.4h0M700.4 363.2h0M703.6 360.0h0M671.5 398.5h0M674.7 395.3h0M677.9 392.1h0M681.1 388.9h0M684.3 385.7h0M687.5 382.5h0M690.8 379.3h0M694.0 376.1h0M697.2 372.9h0M700.4 369.6h0M703.6 366.4h0M671.5 405.0h0M674.7 401.8h0M677.9 398.5h0M681.1 395.3h0M684.3 392.1h0M687.5 388.9h0M690.8 385.7h0M694.0 382.5h0M697.2 379.3h0M700.4 376.1h0M703.6 372.9h0M671.5 411.4h0M674.7 408.2h0M677.9 405.0h0M681.1 401.8h0M684.3 398.5h0M687.6 395.3h0M690.8 392.1h0M694.0 388.9h0M697.2 385.7h0M700.4 382.5h0M703.6 379.3h0M671.5 417.8h0M674.7 414.6h0M677.9 411.4h0M681.1 408.2h0M684.3 405.0h0M687.5 401.8h0M690.8 398.5h0M694.0 395.3h0M697.2 392.1h0M700.4 388.9h0M703.6 385.7h0M671.5 424.2h0M674.7 421.0h0M677.9 417.8h0M681.1 414.6h0M684.3 411.4h0M687.5 408.2h0M690.8 405.0h0M694.0 401.8h0M697.2 398.5h0M700.4 395.3h0M703.6 392.1h0M671.5 430.6h0M674.7 427.4h0M677.9 424.2h0M681.1 421.0h0M684.3 417.8h0M687.6 414.6h0M690.8 411.4h0M694.0 408.2h0M697.2 405.0h0M700.4 401.8h0M703.6 398.5h0M671.5 437.1h0M674.7 433.8h0M677.9 430.6h0M681.1 427.4h0M684.3 424.2h0M687.5 421.0h0M690.8 417.8h0M694.0 414.6h0M697.2 411.4h0M700.4 408.2h0M703.6 405.0h0M671.5 443.5h0M674.7 440.3h0M677.9 437.1h0M681.1 433.9h0M684.3 430.6h0M687.5 427.4h0M690.8 424.2h0M694.0 421.0h0M697.2 417.8h0M700.4 414.6h0M703.6 411.4h0M671.5 449.9h0M674.7 446.7h0M677.9 443.5h0M681.1 440.3h0M684.3 437.1h0M687.6 433.9h0M690.8 430.6h0M694.0 427.4h0M697.2 424.2h0M700.4 421.0h0M703.6 417.8h0M671.5 456.3h0M674.7 453.1h0M677.9 449.9h0M681.1 446.7h0M684.3 443.5h0M687.5 440.3h0M690.8 437.1h0M694.0 433.8h0M697.2 430.6h0M700.4 427.4h0M703.6 424.2h0M671.5 462.7h0M674.7 459.5h0M677.9 456.3h0M681.1 453.1h0M684.3 449.9h0M687.5 446.7h0M690.8 443.5h0M694.0 440.3h0M697.2 437.1h0M700.4 433.9h0M703.6 430.6h0M671.5 469.2h0M674.7 466.0h0M677.9 462.7h0M681.1 459.5h0M684.3 456.3h0M687.6 453.1h0M690.8 449.9h0M694.0 446.7h0M697.2 443.5h0M700.4 440.3h0M703.6 437.1h0M671.5 475.6h0M674.7 472.4h0M677.9 469.2h0M681.1 465.9h0M684.3 462.7h0M687.5 459.5h0M690.8 456.3h0M694.0 453.1h0M697.2 449.9h0M700.4 446.7h0M703.6 443.5h0M671.5 482.0h0M674.7 478.8h0M677.9 475.6h0M681.1 472.4h0M684.3 469.2h0M687.5 466.0h0M690.8 462.7h0M694.0 459.5h0M697.2 456.3h0M700.4 453.1h0M703.6 449.9h0M671.5 488.4h0M674.7 485.2h0M677.9 482.0h0M681.1 478.8h0M684.3 475.6h0M687.6 472.4h0M690.8 469.2h0M694.0 466.0h0M697.2 462.7h0M700.4 459.5h0M703.6 456.3h0M671.5 494.8h0M674.7 491.6h0M677.9 488.4h0M681.1 485.2h0M684.3 482.0h0M687.6 478.8h0M690.8 475.6h0M694.0 472.4h0M697.2 469.2h0M700.4 466.0h0M703.6 462.7h0M671.5 501.3h0M674.7 498.1h0M677.9 494.8h0M681.1 491.6h0M684.3 488.4h0M687.5 485.2h0M690.8 482.0h0M694.0 478.8h0M697.2 475.6h0M700.4 472.4h0M703.6 469.2h0M671.5 507.7h0M674.7 504.5h0M677.9 501.3h0M681.1 498.1h0M684.3 494.8h0M687.5 491.6h0M690.8 488.4h0M694.0 485.2h0M697.2 482.0h0M700.4 478.8h0M703.6 475.6h0M671.5 514.1h0M674.7 510.9h0M677.9 507.7h0M681.1 504.5h0M684.3 501.3h0M687.5 498.0h0M690.8 494.8h0M694.0 491.6h0M697.2 488.4h0M700.4 485.2h0M703.6 482.0h0M671.5 520.5h0M674.7 517.3h0M677.9 514.1h0M681.1 510.9h0M684.3 507.7h0M687.5 504.5h0M690.8 501.3h0M694.0 498.1h0M697.2 494.8h0M700.4 491.6h0M703.6 488.4h0M671.5 526.9h0M674.7 523.7h0M677.9 520.5h0M681.1 517.3h0M684.3 514.1h0M687.5 510.9h0M690.8 507.7h0M694.0 504.5h0M697.2 501.3h0M700.4 498.1h0M703.6 494.8h0M671.5 533.4h0M674.7 530.2h0M677.9 526.9h0M681.1 523.7h0M684.3 520.5h0M687.6 517.3h0M690.8 514.1h0M694.0 510.9h0M697.2 507.7h0M700.4 504.5h0M703.6 501.3h0M671.5 539.8h0M674.7 536.6h0M677.9 533.4h0M681.1 530.1h0M684.3 526.9h0M687.5 523.7h0M690.8 520.5h0M694.0 517.3h0M697.2 514.1h0M700.4 510.9h0M703.6 507.7h0M671.5 546.2h0M674.7 543.0h0M677.9 539.8h0M681.1 536.6h0M684.3 533.4h0M687.5 530.2h0M690.8 526.9h0M694.0 523.7h0M697.2 520.5h0M700.4 517.3h0M703.6 514.1h0M677.9 546.2h0M681.1 543.0h0M684.3 539.8h0M687.5 536.6h0M690.8 533.4h0M694.0 530.1h0M697.2 526.9h0M700.4 523.7h0M703.6 520.5h0M684.3 546.2h0M687.5 543.0h0M690.8 539.8h0M694.0 536.6h0M697.2 533.4h0M700.4 530.1h0M703.6 526.9h0M690.8 546.2h0M694.0 543.0h0M697.2 539.8h0M700.4 536.6h0M703.6 533.4h0M697.2 546.2h0M700.4 543.0h0M703.6 539.8h0M703.6 546.2h0" stroke="#000" stroke-linecap="round" stroke-width="1.8" stroke-opacity="0.6"/><path clip-path="url(#c15)" d="M671.50 193.10L704.90 226.50" stroke="#000" stroke-width="1.3" stroke-opacity="0.5" fill="none"/><rect x="671.50" y="193.10" width="33.40" height="353.90" fill="none" stroke="#000" stroke-width="1.1" stroke-opacity="0.55"/><rect x="704.90" y="83.60" width="34.00" height="463.40" fill="#ff80ff"/><path clip-path="url(#c16)" d="M704.90 88.27H738.90M704.90 92.95H738.90M704.90 97.62H738.90M704.90 102.29H738.90M704.90 106.97H738.90M704.90 111.64H738.90M704.90 116.31H738.90M704.90 120.98H738.90M704.90 125.66H738.90M704.90 130.33H738.90M704.90 135.00H738.90M704.90 139.68H738.90M704.90 144.35H738.90M704.90 149.02H738.90M704.90 153.70H738.90M704.90 158.37H738.90M704.90 163.04H738.90M704.90 167.71H738.90M704.90 172.39H738.90M704.90 177.06H738.90M704.90 181.73H738.90M704.90 186.41H738.90M704.90 191.08H738.90M704.90 195.75H738.90M704.90 200.43H738.90M704.90 205.10H738.90M704.90 209.77H738.90M704.90 214.44H738.90M704.90 219.12H738.90M704.90 223.79H738.90M704.90 228.46H738.90M704.90 233.14H738.90M704.90 237.81H738.90M704.90 242.48H738.90M704.90 247.16H738.90M704.90 251.83H738.90M704.90 256.50H738.90M704.90 261.17H738.90M704.90 265.85H738.90M704.90 270.52H738.90M704.90 275.19H738.90M704.90 279.87H738.90M704.90 284.54H738.90M704.90 289.21H738.90M704.90 293.89H738.90M704.90 298.56H738.90M704.90 303.23H738.90M704.90 307.90H738.90M704.90 312.58H738.90M704.90 317.25H738.90M704.90 321.92H738.90M704.90 326.60H738.90M704.90 331.27H738.90M704.90 335.94H738.90M704.90 340.62H738.90M704.90 345.29H738.90M704.90 349.96H738.90M704.90 354.63H738.90M704.90 359.31H738.90M704.90 363.98H738.90M704.90 368.65H738.90M704.90 373.33H738.90M704.90 378.00H738.90M704.90 382.67H738.90M704.90 387.35H738.90M704.90 392.02H738.90M704.90 396.69H738.90M704.90 401.36H738.90M704.90 406.04H738.90M704.90 410.71H738.90M704.90 415.38H738.90M704.90 420.06H738.90M704.90 424.73H738.90M704.90 429.40H738.90M704.90 434.08H738.90M704.90 438.75H738.90M704.90 443.42H738.90M704.90 448.09H738.90M704.90 452.77H738.90M704.90 457.44H738.90M704.90 462.11H738.90M704.90 466.79H738.90M704.90 471.46H738.90M704.90 476.13H738.90M704.90 480.81H738.90M704.90 485.48H738.90M704.90 490.15H738.90M704.90 494.82H738.90M704.90 499.50H738.90M704.90 504.17H738.90M704.90 508.84H738.90M704.90 513.52H738.90M704.90 518.19H738.90M704.90 522.86H738.90M704.90 527.54H738.90M704.90 532.21H738.90M704.90 536.88H738.90M704.90 541.55H738.90M704.90 546.23H738.90" stroke="#000" stroke-width="1.0" stroke-opacity="0.55" fill="none"/><rect x="704.90" y="83.60" width="34.00" height="463.40" fill="none" stroke="#000" stroke-width="1.1" stroke-opacity="0.55"/>
<path d="M84 11H757" stroke="#000" stroke-width="2"/><path d="M74.2 547H757" stroke="#000" stroke-width="2"/><path d="M84.9 10V548" stroke="#000" stroke-width="2"/><path d="M253 10V548" stroke="#000" stroke-width="2"/><path d="M420.4 10V548" stroke="#000" stroke-width="2"/><path d="M588.1 10V548" stroke="#000" stroke-width="2"/><path d="M756 10V548" stroke="#000" stroke-width="2"/><path d="M74.2 547.00H85" stroke="#000" stroke-width="2"/><path d="M253 547.00H258.90" stroke="#000" stroke-width="2"/><path d="M420.4 547.00H426.30" stroke="#000" stroke-width="2"/><path d="M588.1 547.00H594.00" stroke="#000" stroke-width="2"/><path d="M79.4 517.28H85" stroke="#000" stroke-width="2"/><path d="M253 517.28H255.90" stroke="#000" stroke-width="2"/><path d="M420.4 517.28H423.30" stroke="#000" stroke-width="2"/><path d="M588.1 517.28H591.00" stroke="#000" stroke-width="2"/><path d="M74.2 487.56H85" stroke="#000" stroke-width="2"/><path d="M253 487.56H258.90" stroke="#000" stroke-width="2"/><path d="M420.4 487.56H426.30" stroke="#000" stroke-width="2"/><path d="M588.1 487.56H594.00" stroke="#000" stroke-width="2"/><path d="M79.4 457.83H85" stroke="#000" stroke-width="2"/><path d="M253 457.83H255.90" stroke="#000" stroke-width="2"/><path d="M420.4 457.83H423.30" stroke="#000" stroke-width="2"/><path d="M588.1 457.83H591.00" stroke="#000" stroke-width="2"/><path d="M74.2 428.11H85" stroke="#000" stroke-width="2"/><path d="M253 428.11H258.90" stroke="#000" stroke-width="2"/><path d="M420.4 428.11H426.30" stroke="#000" stroke-width="2"/><path d="M588.1 428.11H594.00" stroke="#000" stroke-width="2"/><path d="M79.4 398.39H85" stroke="#000" stroke-width="2"/><path d="M253 398.39H255.90" stroke="#000" stroke-width="2"/><path d="M420.4 398.39H423.30" stroke="#000" stroke-width="2"/><path d="M588.1 398.39H591.00" stroke="#000" stroke-width="2"/><path d="M74.2 368.66H85" stroke="#000" stroke-width="2"/><path d="M253 368.66H258.90" stroke="#000" stroke-width="2"/><path d="M420.4 368.66H426.30" stroke="#000" stroke-width="2"/><path d="M588.1 368.66H594.00" stroke="#000" stroke-width="2"/><path d="M79.4 338.94H85" stroke="#000" stroke-width="2"/><path d="M253 338.94H255.90" stroke="#000" stroke-width="2"/><path d="M420.4 338.94H423.30" stroke="#000" stroke-width="2"/><path d="M588.1 338.94H591.00" stroke="#000" stroke-width="2"/><path d="M74.2 309.22H85" stroke="#000" stroke-width="2"/><path d="M253 309.22H258.90" stroke="#000" stroke-width="2"/><path d="M420.4 309.22H426.30" stroke="#000" stroke-width="2"/><path d="M588.1 309.22H594.00" stroke="#000" stroke-width="2"/><path d="M79.4 279.50H85" stroke="#000" stroke-width="2"/><path d="M253 279.50H255.90" stroke="#000" stroke-width="2"/><path d="M420.4 279.50H423.30" stroke="#000" stroke-width="2"/><path d="M588.1 279.50H591.00" stroke="#000" stroke-width="2"/><path d="M74.2 249.77H85" stroke="#000" stroke-width="2"/><path d="M253 249.77H258.90" stroke="#000" stroke-width="2"/><path d="M420.4 249.77H426.30" stroke="#000" stroke-width="2"/><path d="M588.1 249.77H594.00" stroke="#000" stroke-width="2"/><path d="M79.4 220.05H85" stroke="#000" stroke-width="2"/><path d="M253 220.05H255.90" stroke="#000" stroke-width="2"/><path d="M420.4 220.05H423.30" stroke="#000" stroke-width="2"/><path d="M588.1 220.05H591.00" stroke="#000" stroke-width="2"/><path d="M74.2 190.33H85" stroke="#000" stroke-width="2"/><path d="M253 190.33H258.90" stroke="#000" stroke-width="2"/><path d="M420.4 190.33H426.30" stroke="#000" stroke-width="2"/><path d="M588.1 190.33H594.00" stroke="#000" stroke-width="2"/><path d="M79.4 160.61H85" stroke="#000" stroke-width="2"/><path d="M253 160.61H255.90" stroke="#000" stroke-width="2"/><path d="M420.4 160.61H423.30" stroke="#000" stroke-width="2"/><path d="M588.1 160.61H591.00" stroke="#000" stroke-width="2"/><path d="M74.2 130.88H85" stroke="#000" stroke-width="2"/><path d="M253 130.88H258.90" stroke="#000" stroke-width="2"/><path d="M420.4 130.88H426.30" stroke="#000" stroke-width="2"/><path d="M588.1 130.88H594.00" stroke="#000" stroke-width="2"/><path d="M79.4 101.16H85" stroke="#000" stroke-width="2"/><path d="M253 101.16H255.90" stroke="#000" stroke-width="2"/><path d="M420.4 101.16H423.30" stroke="#000" stroke-width="2"/><path d="M588.1 101.16H591.00" stroke="#000" stroke-width="2"/><path d="M74.2 71.44H85" stroke="#000" stroke-width="2"/><path d="M253 71.44H258.90" stroke="#000" stroke-width="2"/><path d="M420.4 71.44H426.30" stroke="#000" stroke-width="2"/><path d="M588.1 71.44H594.00" stroke="#000" stroke-width="2"/><path d="M79.4 41.72H85" stroke="#000" stroke-width="2"/><path d="M253 41.72H255.90" stroke="#000" stroke-width="2"/><path d="M420.4 41.72H423.30" stroke="#000" stroke-width="2"/><path d="M588.1 41.72H591.00" stroke="#000" stroke-width="2"/><path d="M74.2 12.00H85" stroke="#000" stroke-width="2"/><path d="M253 12.00H258.90" stroke="#000" stroke-width="2"/><path d="M420.4 12.00H426.30" stroke="#000" stroke-width="2"/><path d="M588.1 12.00H594.00" stroke="#000" stroke-width="2"/>
<text transform="translate(67.6 553.00) scale(1 1.05)" text-anchor="end" class="yt">0.0</text><text transform="translate(67.6 493.56) scale(1 1.05)" text-anchor="end" class="yt">0.5</text><text transform="translate(67.6 434.11) scale(1 1.05)" text-anchor="end" class="yt">1.0</text><text transform="translate(67.6 374.66) scale(1 1.05)" text-anchor="end" class="yt">1.5</text><text transform="translate(67.6 315.22) scale(1 1.05)" text-anchor="end" class="yt">2.0</text><text transform="translate(67.6 255.77) scale(1 1.05)" text-anchor="end" class="yt">2.5</text><text transform="translate(67.6 196.33) scale(1 1.05)" text-anchor="end" class="yt">3.0</text><text transform="translate(67.6 136.88) scale(1 1.05)" text-anchor="end" class="yt">3.5</text><text transform="translate(67.6 77.44) scale(1 1.05)" text-anchor="end" class="yt">4.0</text><text transform="translate(67.6 18.00) scale(1 1.05)" text-anchor="end" class="yt">4.5</text><text x="140.7" y="53.8" class="pl">Nb</text><text x="313.0" y="51.4" class="pl">Ta</text><text x="503.7" y="57.2" class="pl">Ti</text><text x="657.0" y="57.0" class="pl">Zr</text><text transform="translate(115.4 571.4) scale(1 0.975)" text-anchor="middle" class="xt">0</text><text transform="translate(148.8 571.4) scale(1 0.975)" text-anchor="middle" class="xt">10</text><text transform="translate(181.2 571.4) scale(1 0.975)" text-anchor="middle" class="xt">20</text><text transform="translate(213.9 571.4) scale(1 0.975)" text-anchor="middle" class="xt">30</text><text transform="translate(284.4 571.4) scale(1 0.975)" text-anchor="middle" class="xt">0</text><text transform="translate(317.5 571.4) scale(1 0.975)" text-anchor="middle" class="xt">10</text><text transform="translate(350.4 571.4) scale(1 0.975)" text-anchor="middle" class="xt">20</text><text transform="translate(383.4 571.4) scale(1 0.975)" text-anchor="middle" class="xt">30</text><text transform="translate(449.0 571.4) scale(1 0.975)" text-anchor="middle" class="xt">0</text><text transform="translate(482.3 571.4) scale(1 0.975)" text-anchor="middle" class="xt">10</text><text transform="translate(514.9 571.4) scale(1 0.975)" text-anchor="middle" class="xt">20</text><text transform="translate(548.0 571.4) scale(1 0.975)" text-anchor="middle" class="xt">30</text><text transform="translate(619.7 571.4) scale(1 0.975)" text-anchor="middle" class="xt">0</text><text transform="translate(652.9 571.4) scale(1 0.975)" text-anchor="middle" class="xt">10</text><text transform="translate(685.8 571.4) scale(1 0.975)" text-anchor="middle" class="xt">20</text><text transform="translate(718.7 571.4) scale(1 0.975)" text-anchor="middle" class="xt">30</text><text x="226.2" y="609.4" class="at" textLength="358.5" lengthAdjust="spacingAndGlyphs">%Wt of Element (Nb/Ta/Ti/Zr)</text><text transform="translate(22.4 296.4) rotate(-90)" text-anchor="middle" class="at" textLength="127.5" lengthAdjust="spacingAndGlyphs">UTS (GPa)</text>
</svg>
</body></html>
